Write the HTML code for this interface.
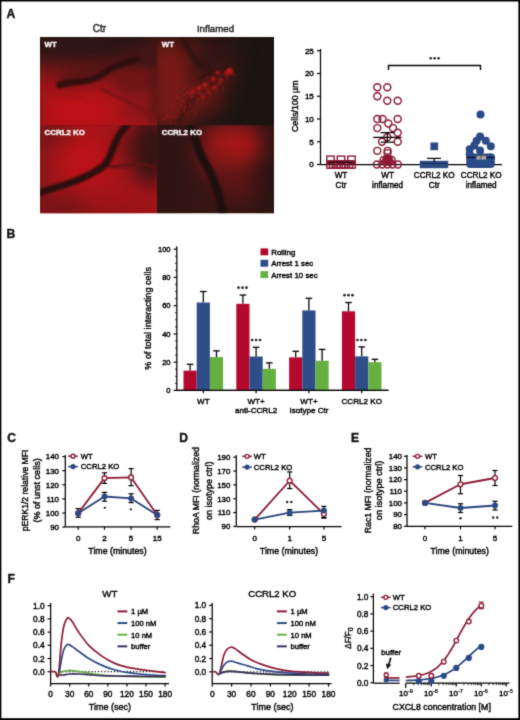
<!DOCTYPE html>
<html><head><meta charset="utf-8"><style>
html,body{margin:0;padding:0;background:#fff;}
svg{display:block;font-family:'Liberation Sans',sans-serif;}
svg text{paint-order:stroke;}
</style></head><body>
<svg width="520" height="720" viewBox="0 0 520 720" style="font-family:'Liberation Sans',sans-serif">
<defs><filter id="gblur" x="0" y="0" width="520" height="720" filterUnits="userSpaceOnUse" color-interpolation-filters="sRGB"><feConvolveMatrix order="3" kernelMatrix="0.01917 0.10012 0.01917 0.10012 0.52283 0.10012 0.01917 0.10012 0.01917" edgeMode="duplicate"/></filter></defs>
<g filter="url(#gblur)">
<rect width="520" height="720" fill="#fff"/>
<defs>
<filter id="b05" color-interpolation-filters="sRGB" x="-20%" y="-20%" width="140%" height="140%"><feGaussianBlur stdDeviation="0.6"/></filter>
<filter id="b1" color-interpolation-filters="sRGB" x="-20%" y="-20%" width="140%" height="140%"><feGaussianBlur stdDeviation="1.2"/></filter>
<filter id="b2" color-interpolation-filters="sRGB" x="-30%" y="-30%" width="160%" height="160%"><feGaussianBlur stdDeviation="2"/></filter>
<filter id="b3" color-interpolation-filters="sRGB" x="-30%" y="-30%" width="160%" height="160%"><feGaussianBlur stdDeviation="3"/></filter>
<filter id="b6" color-interpolation-filters="sRGB" x="-50%" y="-50%" width="200%" height="200%"><feGaussianBlur stdDeviation="6"/></filter>
<filter id="b10" color-interpolation-filters="sRGB" x="-50%" y="-50%" width="200%" height="200%"><feGaussianBlur stdDeviation="10"/></filter>
<clipPath id="cTL"><rect x="40" y="37" width="117" height="88.3"/></clipPath>
<clipPath id="cTR"><rect x="157" y="37" width="117" height="88.3"/></clipPath>
<clipPath id="cBL"><rect x="40" y="125.3" width="117" height="88"/></clipPath>
<clipPath id="cBR"><rect x="157" y="125.3" width="117" height="88"/></clipPath>
<linearGradient id="gTL" x1="0" y1="37" x2="0" y2="125" gradientUnits="userSpaceOnUse">
<stop offset="0" stop-color="#2c1614"/><stop offset="0.17" stop-color="#321614"/><stop offset="0.28" stop-color="#4e1614"/><stop offset="0.4" stop-color="#7a1616"/><stop offset="0.52" stop-color="#961418"/><stop offset="0.66" stop-color="#ac1418"/><stop offset="1" stop-color="#b01218"/>
</linearGradient>
</defs>
<rect x="40.5" y="37.5" width="233.5" height="175.5" fill="#3a1614"/>
<g clip-path="url(#cTL)">
<rect x="38" y="35" width="122" height="92" fill="url(#gTL)"/>
<g filter="url(#b6)">
<ellipse cx="140" cy="50" rx="30" ry="14" fill="#2c1614"/>
<ellipse cx="132" cy="82" rx="20" ry="14" fill="#6e1616"/>
<ellipse cx="80" cy="112" rx="32" ry="13" fill="#be1018"/>
<ellipse cx="140" cy="110" rx="18" ry="14" fill="#8e1619"/>
<rect x="32" y="90" width="10" height="40" fill="#901519"/>
<rect x="151" y="35" width="10" height="92" fill="#4a1615"/>
</g>
<path d="M60,80 C75,76 95,74 110,64 C120,58 135,54 157,52" stroke="#4a1414" stroke-width="12" fill="none" filter="url(#b6)"/>
<g filter="url(#b1)" fill="none">
<path d="M57,86 C64,83 72,82 84,81 C96,80 104,73 112,68 C120,64 128,62 140,58" stroke="#300e0e" stroke-width="6"/>
<path d="M100,89 C115,95 132,104 157,118" stroke="#7a1416" stroke-width="3.5"/>
<path d="M42,92 C55,95 70,99 84,97" stroke="#a31418" stroke-width="2.5"/>
</g>
</g>
<g clip-path="url(#cTR)">
<rect x="155" y="35" width="122" height="92" fill="#1c1411"/>
<g filter="url(#b10)">
<path d="M165,118 L230,70" stroke="#6a1a16" stroke-width="16"/>
<rect x="150" y="40" width="42" height="87" fill="#7a1a16"/>
<ellipse cx="190" cy="48" rx="16" ry="10" fill="#5e1814"/>
<ellipse cx="200" cy="98" rx="24" ry="18" fill="#641815"/>
<ellipse cx="214" cy="80" rx="14" ry="9" fill="#5a1614"/>
<ellipse cx="222" cy="50" rx="16" ry="10" fill="#3a1513"/>
</g>
<g filter="url(#b2)" fill="none">
<path d="M183,38 C188,50 194,60 204,68" stroke="#2a1311" stroke-width="5"/>
<path d="M178,124 C182,114 188,104 196,96" stroke="#2e1412" stroke-width="4"/>
</g>
<g filter="url(#b05)">
<circle cx="187.1" cy="110.8" r="0.66" fill="#b81c1c" opacity="0.29"/>
<circle cx="170.2" cy="127.5" r="1.01" fill="#b81c1c" opacity="0.22"/>
<circle cx="190.4" cy="101.1" r="0.65" fill="#b81c1c" opacity="0.44"/>
<circle cx="210.2" cy="96.5" r="1.07" fill="#b81c1c" opacity="0.34"/>
<circle cx="189.9" cy="103.6" r="1.29" fill="#d02020" opacity="0.30"/>
<circle cx="198.7" cy="94.2" r="1.06" fill="#9a1818" opacity="0.23"/>
<circle cx="201.8" cy="93.8" r="1.17" fill="#b81c1c" opacity="0.35"/>
<circle cx="197.4" cy="99.1" r="1.03" fill="#d02020" opacity="0.32"/>
<circle cx="225.0" cy="72.8" r="0.74" fill="#9a1818" opacity="0.22"/>
<circle cx="184.2" cy="110.4" r="1.00" fill="#d02020" opacity="0.38"/>
<circle cx="183.0" cy="110.5" r="0.93" fill="#d02020" opacity="0.24"/>
<circle cx="195.0" cy="96.7" r="0.63" fill="#b81c1c" opacity="0.39"/>
<circle cx="203.7" cy="96.2" r="1.16" fill="#8a1616" opacity="0.34"/>
<circle cx="190.3" cy="95.1" r="1.27" fill="#d02020" opacity="0.32"/>
<circle cx="213.1" cy="95.6" r="1.12" fill="#8a1616" opacity="0.27"/>
<circle cx="190.3" cy="105.9" r="1.13" fill="#b81c1c" opacity="0.44"/>
<circle cx="181.7" cy="98.3" r="0.77" fill="#d02020" opacity="0.23"/>
<circle cx="174.3" cy="104.5" r="0.91" fill="#8a1616" opacity="0.22"/>
<circle cx="184.1" cy="87.4" r="1.26" fill="#d02020" opacity="0.38"/>
<circle cx="229.2" cy="69.1" r="1.15" fill="#8a1616" opacity="0.44"/>
<circle cx="172.4" cy="116.5" r="0.79" fill="#8a1616" opacity="0.41"/>
<circle cx="176.2" cy="117.1" r="0.83" fill="#9a1818" opacity="0.30"/>
<circle cx="176.7" cy="89.2" r="1.15" fill="#b81c1c" opacity="0.31"/>
<circle cx="219.5" cy="73.0" r="1.36" fill="#8a1616" opacity="0.30"/>
<circle cx="184.1" cy="95.8" r="0.75" fill="#9a1818" opacity="0.31"/>
<circle cx="168.5" cy="117.2" r="1.08" fill="#b81c1c" opacity="0.20"/>
<circle cx="174.6" cy="119.5" r="0.62" fill="#9a1818" opacity="0.35"/>
<circle cx="173.5" cy="118.3" r="0.80" fill="#d02020" opacity="0.35"/>
<circle cx="197.7" cy="102.9" r="1.38" fill="#8a1616" opacity="0.32"/>
<circle cx="170.0" cy="123.1" r="0.68" fill="#d02020" opacity="0.39"/>
<circle cx="192.7" cy="95.1" r="0.76" fill="#d02020" opacity="0.24"/>
<circle cx="194.6" cy="88.0" r="0.62" fill="#d02020" opacity="0.44"/>
<circle cx="221.3" cy="76.8" r="0.89" fill="#9a1818" opacity="0.29"/>
<circle cx="172.6" cy="105.8" r="1.03" fill="#d02020" opacity="0.36"/>
<circle cx="205.7" cy="92.9" r="0.76" fill="#9a1818" opacity="0.40"/>
<circle cx="207.5" cy="76.2" r="0.78" fill="#8a1616" opacity="0.29"/>
<circle cx="166.2" cy="126.3" r="0.81" fill="#d02020" opacity="0.31"/>
<circle cx="227.9" cy="74.8" r="1.39" fill="#d02020" opacity="0.22"/>
<circle cx="162.9" cy="110.5" r="0.99" fill="#b81c1c" opacity="0.32"/>
<circle cx="207.6" cy="89.6" r="1.24" fill="#b81c1c" opacity="0.41"/>
<circle cx="162.7" cy="107.5" r="0.76" fill="#9a1818" opacity="0.31"/>
<circle cx="209.6" cy="95.0" r="0.67" fill="#8a1616" opacity="0.32"/>
<circle cx="215.3" cy="86.6" r="1.39" fill="#b81c1c" opacity="0.24"/>
<circle cx="226.1" cy="77.2" r="1.25" fill="#9a1818" opacity="0.35"/>
<circle cx="194.0" cy="79.0" r="0.72" fill="#9a1818" opacity="0.21"/>
<circle cx="218.8" cy="83.0" r="1.18" fill="#b81c1c" opacity="0.33"/>
<circle cx="221.6" cy="66.4" r="1.26" fill="#9a1818" opacity="0.21"/>
<circle cx="179.2" cy="116.6" r="1.00" fill="#d02020" opacity="0.26"/>
<circle cx="196.5" cy="109.6" r="0.88" fill="#8a1616" opacity="0.37"/>
<circle cx="224.0" cy="88.0" r="1.01" fill="#9a1818" opacity="0.33"/>
<circle cx="202.0" cy="101.4" r="0.75" fill="#b81c1c" opacity="0.39"/>
<circle cx="171.4" cy="115.2" r="0.71" fill="#b81c1c" opacity="0.34"/>
<circle cx="177.8" cy="97.4" r="1.23" fill="#b81c1c" opacity="0.42"/>
<circle cx="163.3" cy="118.0" r="0.75" fill="#b81c1c" opacity="0.39"/>
<circle cx="190.2" cy="87.2" r="1.33" fill="#8a1616" opacity="0.28"/>
<circle cx="228.2" cy="69.7" r="1.08" fill="#9a1818" opacity="0.37"/>
<circle cx="187.9" cy="92.4" r="1.35" fill="#d02020" opacity="0.43"/>
<circle cx="223.5" cy="75.4" r="0.76" fill="#8a1616" opacity="0.23"/>
<circle cx="167.0" cy="113.3" r="0.79" fill="#b81c1c" opacity="0.25"/>
<circle cx="182.4" cy="107.4" r="0.70" fill="#9a1818" opacity="0.43"/>
<circle cx="204.4" cy="86.5" r="0.71" fill="#8a1616" opacity="0.25"/>
<circle cx="230.3" cy="75.8" r="0.92" fill="#8a1616" opacity="0.24"/>
<circle cx="209.0" cy="89.3" r="1.40" fill="#8a1616" opacity="0.28"/>
<circle cx="181.5" cy="122.4" r="0.85" fill="#d02020" opacity="0.20"/>
<circle cx="199.2" cy="92.8" r="0.87" fill="#d02020" opacity="0.33"/>
<circle cx="165.0" cy="119.2" r="1.39" fill="#9a1818" opacity="0.44"/>
<circle cx="167.4" cy="116.5" r="1.22" fill="#d02020" opacity="0.39"/>
<circle cx="220.0" cy="81.5" r="1.28" fill="#d02020" opacity="0.30"/>
<circle cx="194.0" cy="88.1" r="0.86" fill="#d02020" opacity="0.21"/>
<circle cx="209.2" cy="86.3" r="0.94" fill="#b81c1c" opacity="0.27"/>
<circle cx="164.6" cy="126.0" r="1.09" fill="#9a1818" opacity="0.22"/>
<circle cx="223.4" cy="79.9" r="0.96" fill="#d02020" opacity="0.45"/>
<circle cx="195.2" cy="107.9" r="0.63" fill="#9a1818" opacity="0.43"/>
<circle cx="227.7" cy="69.6" r="0.81" fill="#9a1818" opacity="0.25"/>
<circle cx="179.9" cy="102.5" r="0.83" fill="#9a1818" opacity="0.27"/>
<circle cx="223.2" cy="88.5" r="1.40" fill="#b81c1c" opacity="0.20"/>
<circle cx="210.6" cy="81.6" r="0.98" fill="#8a1616" opacity="0.23"/>
<circle cx="218.3" cy="79.3" r="0.95" fill="#8a1616" opacity="0.34"/>
<circle cx="226.7" cy="80.4" r="0.77" fill="#9a1818" opacity="0.29"/>
<circle cx="219.4" cy="78.8" r="1.17" fill="#9a1818" opacity="0.30"/>
<circle cx="187.2" cy="107.4" r="0.66" fill="#d02020" opacity="0.31"/>
<circle cx="164.9" cy="120.4" r="1.13" fill="#8a1616" opacity="0.42"/>
<circle cx="207.7" cy="87.0" r="0.83" fill="#8a1616" opacity="0.25"/>
<circle cx="182.7" cy="113.0" r="0.60" fill="#d02020" opacity="0.44"/>
<circle cx="227.9" cy="69.4" r="1.37" fill="#d02020" opacity="0.25"/>
<circle cx="172.1" cy="111.2" r="0.87" fill="#b81c1c" opacity="0.32"/>
<circle cx="197.7" cy="98.4" r="0.60" fill="#d02020" opacity="0.40"/>
<circle cx="175.9" cy="122.5" r="1.07" fill="#8a1616" opacity="0.21"/>
<circle cx="182.6" cy="107.4" r="1.02" fill="#9a1818" opacity="0.36"/>
<circle cx="216.2" cy="92.1" r="1.30" fill="#8a1616" opacity="0.39"/>
<circle cx="209.0" cy="81.1" r="1.09" fill="#9a1818" opacity="0.21"/>
<circle cx="220.2" cy="79.5" r="1.31" fill="#8a1616" opacity="0.38"/>
<circle cx="221.1" cy="84.3" r="1.00" fill="#b81c1c" opacity="0.41"/>
<circle cx="205.7" cy="97.3" r="1.31" fill="#9a1818" opacity="0.22"/>
<circle cx="154.6" cy="107.9" r="0.90" fill="#8a1616" opacity="0.34"/>
<circle cx="198.0" cy="79.8" r="1.10" fill="#9a1818" opacity="0.32"/>
<circle cx="162.8" cy="125.4" r="1.00" fill="#b81c1c" opacity="0.36"/>
<circle cx="156.7" cy="107.3" r="1.19" fill="#d02020" opacity="0.40"/>
<circle cx="221.4" cy="79.6" r="0.78" fill="#8a1616" opacity="0.32"/>
<circle cx="194.8" cy="112.7" r="0.98" fill="#d02020" opacity="0.39"/>
<circle cx="203.5" cy="89.2" r="0.72" fill="#d02020" opacity="0.36"/>
<circle cx="208.8" cy="85.1" r="1.10" fill="#9a1818" opacity="0.20"/>
<circle cx="163.5" cy="117.6" r="1.15" fill="#8a1616" opacity="0.27"/>
<circle cx="203.2" cy="104.1" r="0.97" fill="#8a1616" opacity="0.39"/>
<circle cx="229.1" cy="67.9" r="0.67" fill="#8a1616" opacity="0.20"/>
<circle cx="192.0" cy="97.1" r="1.26" fill="#8a1616" opacity="0.45"/>
<circle cx="196.5" cy="114.5" r="0.66" fill="#b81c1c" opacity="0.24"/>
<circle cx="193.1" cy="88.7" r="1.36" fill="#9a1818" opacity="0.35"/>
<circle cx="205.1" cy="89.3" r="0.89" fill="#8a1616" opacity="0.42"/>
<circle cx="197.0" cy="100.0" r="0.62" fill="#b81c1c" opacity="0.44"/>
<circle cx="204.2" cy="80.4" r="0.93" fill="#8a1616" opacity="0.28"/>
<circle cx="223.4" cy="83.3" r="0.60" fill="#d02020" opacity="0.41"/>
<circle cx="175.6" cy="125.8" r="1.32" fill="#d02020" opacity="0.26"/>
<circle cx="161.1" cy="113.6" r="0.91" fill="#b81c1c" opacity="0.29"/>
<circle cx="190.6" cy="99.9" r="0.68" fill="#d02020" opacity="0.36"/>
<circle cx="172.2" cy="116.5" r="1.38" fill="#8a1616" opacity="0.33"/>
<circle cx="165.3" cy="100.5" r="1.31" fill="#8a1616" opacity="0.43"/>
<circle cx="233.2" cy="81.7" r="1.04" fill="#b81c1c" opacity="0.21"/>
<circle cx="207.1" cy="76.7" r="1.12" fill="#d02020" opacity="0.32"/>
<circle cx="227.2" cy="77.7" r="1.04" fill="#9a1818" opacity="0.32"/>
<circle cx="182.6" cy="101.4" r="1.38" fill="#d02020" opacity="0.30"/>
<circle cx="184.5" cy="120.2" r="0.99" fill="#8a1616" opacity="0.23"/>
<circle cx="210.2" cy="94.7" r="1.25" fill="#9a1818" opacity="0.31"/>
<circle cx="186.3" cy="108.4" r="1.21" fill="#8a1616" opacity="0.23"/>
<circle cx="177.5" cy="117.4" r="0.67" fill="#9a1818" opacity="0.29"/>
<circle cx="219.9" cy="83.1" r="0.76" fill="#b81c1c" opacity="0.39"/>
<circle cx="185.3" cy="94.7" r="0.90" fill="#d02020" opacity="0.39"/>
<circle cx="198.4" cy="100.2" r="1.06" fill="#d02020" opacity="0.23"/>
<circle cx="190.7" cy="88.5" r="0.77" fill="#d02020" opacity="0.42"/>
<circle cx="181.4" cy="93.5" r="1.12" fill="#8a1616" opacity="0.44"/>
<circle cx="221.6" cy="79.4" r="0.63" fill="#8a1616" opacity="0.44"/>
<circle cx="194.7" cy="96.2" r="0.66" fill="#8a1616" opacity="0.44"/>
<circle cx="180.0" cy="112.3" r="1.02" fill="#b81c1c" opacity="0.44"/>
<circle cx="213.3" cy="87.0" r="1.12" fill="#8a1616" opacity="0.22"/>
<circle cx="217.7" cy="84.9" r="1.06" fill="#b81c1c" opacity="0.36"/>
<circle cx="181.9" cy="106.5" r="0.70" fill="#d02020" opacity="0.33"/>
<circle cx="191.7" cy="99.9" r="0.84" fill="#9a1818" opacity="0.30"/>
<circle cx="174.0" cy="107.6" r="1.08" fill="#b81c1c" opacity="0.33"/>
<circle cx="231.3" cy="70.5" r="1.27" fill="#9a1818" opacity="0.32"/>
<circle cx="180.9" cy="115.7" r="0.80" fill="#8a1616" opacity="0.38"/>
<circle cx="187.4" cy="113.7" r="1.14" fill="#8a1616" opacity="0.22"/>
<circle cx="177.2" cy="111.4" r="0.94" fill="#d02020" opacity="0.26"/>
<circle cx="159.6" cy="116.3" r="1.15" fill="#9a1818" opacity="0.20"/>
<circle cx="185.1" cy="112.8" r="1.28" fill="#b81c1c" opacity="0.25"/>
<circle cx="227.8" cy="69.6" r="0.78" fill="#9a1818" opacity="0.27"/>
<circle cx="229.4" cy="84.3" r="0.69" fill="#8a1616" opacity="0.35"/>
<circle cx="217.7" cy="66.6" r="0.65" fill="#9a1818" opacity="0.43"/>
<circle cx="165.0" cy="120.7" r="0.62" fill="#9a1818" opacity="0.30"/>
<circle cx="212.7" cy="88.0" r="1.17" fill="#d02020" opacity="0.38"/>
<circle cx="234.7" cy="75.2" r="1.35" fill="#d02020" opacity="0.25"/>
<circle cx="202.9" cy="82.9" r="0.85" fill="#8a1616" opacity="0.41"/>
<circle cx="230.4" cy="71.0" r="0.95" fill="#b81c1c" opacity="0.20"/>
<circle cx="173.4" cy="98.1" r="0.70" fill="#9a1818" opacity="0.30"/>
<circle cx="222.2" cy="92.5" r="0.85" fill="#8a1616" opacity="0.22"/>
<circle cx="212.3" cy="88.1" r="0.96" fill="#d02020" opacity="0.29"/>
<circle cx="228.3" cy="81.5" r="0.62" fill="#8a1616" opacity="0.26"/>
<circle cx="202.0" cy="85.8" r="0.97" fill="#b81c1c" opacity="0.26"/>
<circle cx="215.7" cy="86.6" r="1.32" fill="#d02020" opacity="0.29"/>
<circle cx="185.4" cy="106.7" r="1.20" fill="#d02020" opacity="0.43"/>
<circle cx="181.0" cy="106.3" r="1.18" fill="#b81c1c" opacity="0.21"/>
<circle cx="165.3" cy="93.7" r="1.36" fill="#8a1616" opacity="0.40"/>
<circle cx="227.0" cy="77.1" r="1.25" fill="#9a1818" opacity="0.43"/>
<circle cx="175.7" cy="116.3" r="1.26" fill="#9a1818" opacity="0.35"/>
<circle cx="176.7" cy="95.5" r="0.86" fill="#d02020" opacity="0.40"/>
<circle cx="199.1" cy="86.2" r="0.73" fill="#8a1616" opacity="0.22"/>
<circle cx="162.1" cy="119.7" r="1.04" fill="#d02020" opacity="0.24"/>
<circle cx="192.0" cy="102.1" r="1.10" fill="#9a1818" opacity="0.22"/>
<circle cx="196.9" cy="97.9" r="1.17" fill="#8a1616" opacity="0.24"/>
<circle cx="159.5" cy="101.0" r="0.79" fill="#b81c1c" opacity="0.39"/>
<circle cx="183.5" cy="110.3" r="0.82" fill="#d02020" opacity="0.29"/>
<circle cx="214.0" cy="85.5" r="0.80" fill="#9a1818" opacity="0.27"/>
<circle cx="227.6" cy="78.9" r="0.75" fill="#b81c1c" opacity="0.30"/>
<circle cx="229.3" cy="68.4" r="1.25" fill="#8a1616" opacity="0.45"/>
<circle cx="167.2" cy="116.5" r="0.98" fill="#9a1818" opacity="0.41"/>
<circle cx="228.3" cy="78.9" r="0.70" fill="#9a1818" opacity="0.35"/>
<circle cx="220.3" cy="80.8" r="0.76" fill="#b81c1c" opacity="0.29"/>
<circle cx="220.0" cy="74.5" r="1.22" fill="#b81c1c" opacity="0.23"/>
<circle cx="203.9" cy="92.9" r="1.10" fill="#9a1818" opacity="0.21"/>
<circle cx="202.5" cy="130.2" r="0.63" fill="#9a1818" opacity="0.40"/>
<circle cx="222.8" cy="85.7" r="0.93" fill="#d02020" opacity="0.25"/>
<circle cx="184.8" cy="109.3" r="1.04" fill="#b81c1c" opacity="0.30"/>
<circle cx="223.1" cy="89.5" r="1.13" fill="#9a1818" opacity="0.36"/>
<circle cx="170.5" cy="123.0" r="0.93" fill="#d02020" opacity="0.37"/>
<circle cx="195.7" cy="108.6" r="0.64" fill="#d02020" opacity="0.30"/>
<circle cx="162.3" cy="122.4" r="1.12" fill="#8a1616" opacity="0.38"/>
<circle cx="166.2" cy="99.6" r="0.60" fill="#9a1818" opacity="0.31"/>
<circle cx="213.4" cy="72.1" r="0.97" fill="#9a1818" opacity="0.23"/>
<circle cx="169.6" cy="127.7" r="0.71" fill="#8a1616" opacity="0.22"/>
<circle cx="201.7" cy="85.9" r="0.72" fill="#d02020" opacity="0.24"/>
<circle cx="176.5" cy="119.1" r="0.65" fill="#8a1616" opacity="0.32"/>
<circle cx="220.1" cy="84.0" r="0.70" fill="#b81c1c" opacity="0.44"/>
<circle cx="194.2" cy="96.6" r="0.64" fill="#8a1616" opacity="0.22"/>
<circle cx="208.4" cy="81.7" r="1.11" fill="#9a1818" opacity="0.36"/>
<circle cx="196.9" cy="80.2" r="0.76" fill="#8a1616" opacity="0.25"/>
<circle cx="171.1" cy="104.4" r="0.91" fill="#b81c1c" opacity="0.24"/>
<circle cx="232.0" cy="75.5" r="1.25" fill="#9a1818" opacity="0.21"/>
<circle cx="200.5" cy="93.4" r="1.27" fill="#b81c1c" opacity="0.30"/>
<circle cx="191.7" cy="97.1" r="1.28" fill="#d02020" opacity="0.36"/>
<circle cx="182.2" cy="106.3" r="0.89" fill="#8a1616" opacity="0.24"/>
<circle cx="165.4" cy="129.1" r="1.39" fill="#8a1616" opacity="0.26"/>
</g>
<g fill="#c81c1c" filter="url(#b1)" opacity="0.85">
<circle cx="230" cy="71.5" r="3.2"/>
<circle cx="226" cy="73" r="2.0"/>
<circle cx="217" cy="72" r="2.3"/>
<circle cx="213" cy="79" r="2.2"/>
<circle cx="205" cy="85" r="2.3"/>
<circle cx="199" cy="88" r="2.3"/>
<circle cx="193" cy="92" r="2.0"/>
<circle cx="215" cy="88" r="1.8"/>
<circle cx="203" cy="97" r="1.7"/>
<circle cx="209" cy="92" r="1.6"/>
<circle cx="221" cy="80" r="1.6"/>
</g>
<path d="M198,80 C206,76 214,70 226,66" stroke="#2a1210" stroke-width="2" fill="none" filter="url(#b1)"/>
</g>
<g clip-path="url(#cBL)">
<rect x="38" y="123" width="122" height="92" fill="#a61419"/>
<g filter="url(#b10)">
<ellipse cx="86" cy="160" rx="26" ry="22" fill="#bc1218"/>
<ellipse cx="150" cy="150" rx="18" ry="36" fill="#2c1412"/>
<ellipse cx="126" cy="148" rx="12" ry="14" fill="#6a1616"/>
<ellipse cx="100" cy="214" rx="60" ry="8" fill="#8a1416"/>
<ellipse cx="50" cy="132" rx="22" ry="12" fill="#701616"/>
<ellipse cx="58" cy="208" rx="30" ry="12" fill="#6e1416"/>
<rect x="32" y="123" width="12" height="92" fill="#6a1616"/>
</g>
<g filter="url(#b1)" fill="none">
<path d="M38,193 C48,190 58,187 67,184 C76,181 86,177 96,171 C102,168 106,165 109,158 C112,151 114,145 117,139 C120,133 124,128 129,123" stroke="#2c0e0e" stroke-width="7"/>
<path d="M108,166 C118,168 128,165 138,164 C144,164 150,166 157,168" stroke="#5a1414" stroke-width="3"/>
</g>
</g>
<g clip-path="url(#cBR)">
<rect x="155" y="123" width="122" height="92" fill="#351513"/>
<g filter="url(#b10)">
<ellipse cx="232" cy="145" rx="32" ry="22" fill="#a81818"/>
<ellipse cx="214" cy="160" rx="14" ry="16" fill="#801616"/>
<ellipse cx="236" cy="186" rx="22" ry="14" fill="#5e1515"/>
<rect x="262" y="123" width="16" height="92" fill="#241412"/>
<rect x="155" y="123" width="22" height="92" fill="#2c1412"/>
</g>
<g filter="url(#b1)" fill="none">
<path d="M189,124 C193,130 196,140 198,148 C201,156 205,163 209,170 C213,177 216,186 218,193 C220,200 222,207 223,214" stroke="#1e0e0e" stroke-width="8"/>
</g>
</g>
<g font-weight="bold" font-size="7.9" fill="#f8f2f2" stroke="#f8f2f2" stroke-width="0.45">
<text x="44.6" y="47.1">WT</text>
<text x="161.7" y="47.1">WT</text>
<text x="44.6" y="134.9">CCRL2 KO</text>
<text x="161.7" y="134.9">CCRL2 KO</text>
</g>
<text x="99.50" y="32.30" font-size="10" text-anchor="middle" font-weight="normal" fill="#1a1a1a" stroke="#1a1a1a" stroke-width="0.4" >Ctr</text>
<text x="215.50" y="32.20" font-size="9.9" text-anchor="middle" font-weight="normal" fill="#1a1a1a" stroke="#1a1a1a" stroke-width="0.4" textLength="37.2" lengthAdjust="spacingAndGlyphs">Inflamed</text>
<line x1="320.50" y1="49.00" x2="320.50" y2="164.50" stroke="#000000" stroke-width="1.25" />
<line x1="320.50" y1="164.50" x2="502.00" y2="164.50" stroke="#000000" stroke-width="1.25" />
<line x1="317.00" y1="164.50" x2="320.50" y2="164.50" stroke="#000000" stroke-width="1.2" />
<text x="313.80" y="167.40" font-size="8" text-anchor="end" font-weight="normal" fill="#000000" stroke="#000000" stroke-width="0.4" >0</text>
<line x1="317.00" y1="141.75" x2="320.50" y2="141.75" stroke="#000000" stroke-width="1.2" />
<text x="313.80" y="144.65" font-size="8" text-anchor="end" font-weight="normal" fill="#000000" stroke="#000000" stroke-width="0.4" >5</text>
<line x1="317.00" y1="119.00" x2="320.50" y2="119.00" stroke="#000000" stroke-width="1.2" />
<text x="313.80" y="121.90" font-size="8" text-anchor="end" font-weight="normal" fill="#000000" stroke="#000000" stroke-width="0.4" >10</text>
<line x1="317.00" y1="96.25" x2="320.50" y2="96.25" stroke="#000000" stroke-width="1.2" />
<text x="313.80" y="99.15" font-size="8" text-anchor="end" font-weight="normal" fill="#000000" stroke="#000000" stroke-width="0.4" >15</text>
<line x1="317.00" y1="73.50" x2="320.50" y2="73.50" stroke="#000000" stroke-width="1.2" />
<text x="313.80" y="76.40" font-size="8" text-anchor="end" font-weight="normal" fill="#000000" stroke="#000000" stroke-width="0.4" >20</text>
<line x1="317.00" y1="50.75" x2="320.50" y2="50.75" stroke="#000000" stroke-width="1.2" />
<text x="313.80" y="53.65" font-size="8" text-anchor="end" font-weight="normal" fill="#000000" stroke="#000000" stroke-width="0.4" >25</text>
<text transform="translate(298.30,132.00) rotate(-90)" font-size="9.3" fill="#000000" stroke="#000000" stroke-width="0.4" textLength="51.50" lengthAdjust="spacingAndGlyphs">Cells/100 µm</text>
<text x="341.00" y="178.20" font-size="8.2" text-anchor="middle" font-weight="normal" fill="#000000" stroke="#000000" stroke-width="0.4" >WT</text>
<text x="341.00" y="187.90" font-size="8.2" text-anchor="middle" font-weight="normal" fill="#000000" stroke="#000000" stroke-width="0.4" >Ctr</text>
<text x="387.60" y="178.20" font-size="8.2" text-anchor="middle" font-weight="normal" fill="#000000" stroke="#000000" stroke-width="0.4" >WT</text>
<text x="387.60" y="187.90" font-size="8.2" text-anchor="middle" font-weight="normal" fill="#000000" stroke="#000000" stroke-width="0.4" >inflamed</text>
<text x="434.20" y="178.20" font-size="8.2" text-anchor="middle" font-weight="normal" fill="#000000" stroke="#000000" stroke-width="0.4" >CCRL2 KO</text>
<text x="434.20" y="187.90" font-size="8.2" text-anchor="middle" font-weight="normal" fill="#000000" stroke="#000000" stroke-width="0.4" >Ctr</text>
<text x="481.20" y="178.20" font-size="8.2" text-anchor="middle" font-weight="normal" fill="#000000" stroke="#000000" stroke-width="0.4" >CCRL2 KO</text>
<text x="481.20" y="187.90" font-size="8.2" text-anchor="middle" font-weight="normal" fill="#000000" stroke="#000000" stroke-width="0.4" >inflamed</text>
<polyline points="388.50,70.00 388.50,65.50 480.50,65.50 480.50,70.00" fill="none" stroke="#000000" stroke-width="1.4" stroke-linejoin="round" />
<circle cx="430.70" cy="58.20" r="1.3" fill="#222" stroke="none" stroke-width="1.2"/>
<circle cx="434.60" cy="58.20" r="1.3" fill="#222" stroke="none" stroke-width="1.2"/>
<circle cx="438.50" cy="58.20" r="1.3" fill="#222" stroke="none" stroke-width="1.2"/>
<rect x="326.80" y="160.80" width="7.4" height="7.4" fill="#fff" fill-opacity="0.0" stroke="#8c1934" stroke-width="1.4"/>
<rect x="329.50" y="160.80" width="7.4" height="7.4" fill="#fff" fill-opacity="0.0" stroke="#8c1934" stroke-width="1.4"/>
<rect x="332.30" y="160.80" width="7.4" height="7.4" fill="#fff" fill-opacity="0.0" stroke="#8c1934" stroke-width="1.4"/>
<rect x="334.90" y="160.80" width="7.4" height="7.4" fill="#fff" fill-opacity="0.0" stroke="#8c1934" stroke-width="1.4"/>
<rect x="337.30" y="160.80" width="7.4" height="7.4" fill="#fff" fill-opacity="0.0" stroke="#8c1934" stroke-width="1.4"/>
<rect x="339.90" y="160.80" width="7.4" height="7.4" fill="#fff" fill-opacity="0.0" stroke="#8c1934" stroke-width="1.4"/>
<rect x="342.30" y="160.80" width="7.4" height="7.4" fill="#fff" fill-opacity="0.0" stroke="#8c1934" stroke-width="1.4"/>
<rect x="345.10" y="160.80" width="7.4" height="7.4" fill="#fff" fill-opacity="0.0" stroke="#8c1934" stroke-width="1.4"/>
<rect x="347.80" y="160.80" width="7.4" height="7.4" fill="#fff" fill-opacity="0.0" stroke="#8c1934" stroke-width="1.4"/>
<rect x="326.80" y="156.10" width="7.4" height="7.4" fill="#fff" fill-opacity="0.0" stroke="#8c1934" stroke-width="1.4"/>
<rect x="337.30" y="156.10" width="7.4" height="7.4" fill="#fff" fill-opacity="0.0" stroke="#8c1934" stroke-width="1.4"/>
<rect x="347.80" y="156.10" width="7.4" height="7.4" fill="#fff" fill-opacity="0.0" stroke="#8c1934" stroke-width="1.4"/>
<line x1="327.50" y1="162.30" x2="354.50" y2="162.30" stroke="#3a0a18" stroke-width="1.6" />
<circle cx="387.60" cy="159.60" r="5.3" fill="#c0143c" stroke="none" stroke-width="1.2"/>
<circle cx="377.30" cy="87.15" r="3.5" fill="none" stroke="#8c1934" stroke-width="1.45"/>
<circle cx="387.30" cy="87.15" r="3.5" fill="none" stroke="#8c1934" stroke-width="1.45"/>
<circle cx="377.30" cy="96.25" r="3.5" fill="none" stroke="#8c1934" stroke-width="1.45"/>
<circle cx="387.30" cy="100.80" r="3.5" fill="none" stroke="#8c1934" stroke-width="1.45"/>
<circle cx="397.70" cy="100.80" r="3.5" fill="none" stroke="#8c1934" stroke-width="1.45"/>
<circle cx="377.30" cy="119.00" r="3.5" fill="none" stroke="#8c1934" stroke-width="1.45"/>
<circle cx="382.50" cy="119.00" r="3.5" fill="none" stroke="#8c1934" stroke-width="1.45"/>
<circle cx="397.70" cy="119.00" r="3.5" fill="none" stroke="#8c1934" stroke-width="1.45"/>
<circle cx="388.30" cy="123.55" r="3.5" fill="none" stroke="#8c1934" stroke-width="1.45"/>
<circle cx="377.30" cy="128.10" r="3.5" fill="none" stroke="#8c1934" stroke-width="1.45"/>
<circle cx="393.00" cy="128.10" r="3.5" fill="none" stroke="#8c1934" stroke-width="1.45"/>
<circle cx="397.70" cy="132.65" r="3.5" fill="none" stroke="#8c1934" stroke-width="1.45"/>
<circle cx="387.30" cy="137.20" r="3.5" fill="none" stroke="#8c1934" stroke-width="1.45"/>
<circle cx="382.00" cy="141.75" r="3.5" fill="none" stroke="#8c1934" stroke-width="1.45"/>
<circle cx="397.70" cy="141.75" r="3.5" fill="none" stroke="#8c1934" stroke-width="1.45"/>
<circle cx="377.30" cy="150.85" r="3.5" fill="none" stroke="#8c1934" stroke-width="1.45"/>
<circle cx="387.60" cy="150.85" r="3.5" fill="none" stroke="#8c1934" stroke-width="1.45"/>
<circle cx="387.60" cy="153.12" r="3.5" fill="none" stroke="#8c1934" stroke-width="1.45"/>
<circle cx="383.60" cy="159.95" r="3.5" fill="none" stroke="#8c1934" stroke-width="1.45"/>
<circle cx="387.60" cy="159.04" r="3.5" fill="none" stroke="#8c1934" stroke-width="1.45"/>
<circle cx="391.60" cy="159.95" r="3.5" fill="none" stroke="#8c1934" stroke-width="1.45"/>
<circle cx="385.60" cy="161.77" r="3.5" fill="none" stroke="#8c1934" stroke-width="1.45"/>
<circle cx="389.60" cy="161.77" r="3.5" fill="none" stroke="#8c1934" stroke-width="1.45"/>
<circle cx="376.90" cy="164.50" r="3.5" fill="none" stroke="#8c1934" stroke-width="1.45"/>
<circle cx="382.20" cy="164.50" r="3.5" fill="none" stroke="#8c1934" stroke-width="1.45"/>
<circle cx="387.60" cy="164.50" r="3.5" fill="none" stroke="#8c1934" stroke-width="1.45"/>
<circle cx="392.50" cy="164.50" r="3.5" fill="none" stroke="#8c1934" stroke-width="1.45"/>
<circle cx="397.90" cy="164.50" r="3.5" fill="none" stroke="#8c1934" stroke-width="1.45"/>
<line x1="373.20" y1="137.40" x2="401.50" y2="137.40" stroke="#000000" stroke-width="1.3" />
<line x1="380.50" y1="132.60" x2="394.00" y2="132.60" stroke="#000000" stroke-width="1.2" />
<line x1="380.50" y1="142.20" x2="394.00" y2="142.20" stroke="#000000" stroke-width="1.2" />
<line x1="387.30" y1="132.60" x2="387.30" y2="142.20" stroke="#000000" stroke-width="1.2" />
<rect x="419.80" y="160.80" width="28.40" height="7.40" fill="#2c4a85" />
<rect x="430.40" y="142.50" width="7.70" height="7.70" fill="#2c4a85" />
<line x1="427.00" y1="158.40" x2="441.00" y2="158.40" stroke="#000000" stroke-width="1.2" />
<line x1="434.20" y1="158.40" x2="434.20" y2="162.00" stroke="#000000" stroke-width="1.2" />
<line x1="421.00" y1="163.60" x2="447.00" y2="163.60" stroke="#1a2a55" stroke-width="1.0" />
<rect x="466.2" y="153.5" width="28.6" height="14.6" rx="4" fill="#2c4a85"/>
<rect x="476.50" y="155.80" width="9.50" height="3.80" fill="#a8a8b0" />
<circle cx="480.50" cy="114.60" r="4.0" fill="#2c4a85" stroke="none" stroke-width="1.2"/>
<circle cx="480.10" cy="136.50" r="4.0" fill="#2c4a85" stroke="none" stroke-width="1.2"/>
<circle cx="485.80" cy="140.80" r="4.0" fill="#2c4a85" stroke="none" stroke-width="1.2"/>
<circle cx="476.60" cy="140.80" r="4.0" fill="#2c4a85" stroke="none" stroke-width="1.2"/>
<circle cx="490.80" cy="146.20" r="4.0" fill="#2c4a85" stroke="none" stroke-width="1.2"/>
<circle cx="474.30" cy="145.40" r="4.0" fill="#2c4a85" stroke="none" stroke-width="1.2"/>
<circle cx="469.70" cy="149.20" r="4.0" fill="#2c4a85" stroke="none" stroke-width="1.2"/>
<circle cx="480.10" cy="150.40" r="4.0" fill="#2c4a85" stroke="none" stroke-width="1.2"/>
<circle cx="490.80" cy="157.50" r="4.0" fill="#2c4a85" stroke="none" stroke-width="1.2"/>
<circle cx="469.70" cy="154.00" r="4.0" fill="#2c4a85" stroke="none" stroke-width="1.2"/>
<line x1="466.20" y1="157.50" x2="475.50" y2="157.50" stroke="#0d1530" stroke-width="1.3" />
<line x1="487.00" y1="157.50" x2="494.70" y2="157.50" stroke="#0d1530" stroke-width="1.3" />
<line x1="477.00" y1="155.60" x2="486.00" y2="155.60" stroke="#555" stroke-width="1.0" />
<line x1="481.00" y1="155.60" x2="481.00" y2="159.80" stroke="#555" stroke-width="1.0" />
<text x="6.60" y="17.60" font-size="12.1" text-anchor="start" font-weight="bold" fill="#111" stroke="#111" stroke-width="0.4" >A</text>
<text x="6.60" y="238.40" font-size="12.1" text-anchor="start" font-weight="bold" fill="#111" stroke="#111" stroke-width="0.4" >B</text>
<line x1="176.80" y1="246.20" x2="176.80" y2="390.40" stroke="#000000" stroke-width="1.25" />
<line x1="176.80" y1="390.40" x2="388.40" y2="390.40" stroke="#000000" stroke-width="1.3" />
<line x1="173.60" y1="390.40" x2="176.80" y2="390.40" stroke="#000000" stroke-width="1.2" />
<text x="170.60" y="393.10" font-size="7.6" text-anchor="end" font-weight="normal" fill="#000000" stroke="#000000" stroke-width="0.4" >0</text>
<line x1="175.20" y1="383.34" x2="176.80" y2="383.34" stroke="#000000" stroke-width="1.0" />
<line x1="175.20" y1="376.27" x2="176.80" y2="376.27" stroke="#000000" stroke-width="1.0" />
<line x1="175.20" y1="369.21" x2="176.80" y2="369.21" stroke="#000000" stroke-width="1.0" />
<line x1="173.60" y1="362.15" x2="176.80" y2="362.15" stroke="#000000" stroke-width="1.2" />
<text x="170.60" y="364.85" font-size="7.6" text-anchor="end" font-weight="normal" fill="#000000" stroke="#000000" stroke-width="0.4" >20</text>
<line x1="175.20" y1="355.08" x2="176.80" y2="355.08" stroke="#000000" stroke-width="1.0" />
<line x1="175.20" y1="348.02" x2="176.80" y2="348.02" stroke="#000000" stroke-width="1.0" />
<line x1="175.20" y1="340.96" x2="176.80" y2="340.96" stroke="#000000" stroke-width="1.0" />
<line x1="173.60" y1="333.90" x2="176.80" y2="333.90" stroke="#000000" stroke-width="1.2" />
<text x="170.60" y="336.60" font-size="7.6" text-anchor="end" font-weight="normal" fill="#000000" stroke="#000000" stroke-width="0.4" >40</text>
<line x1="175.20" y1="326.83" x2="176.80" y2="326.83" stroke="#000000" stroke-width="1.0" />
<line x1="175.20" y1="319.77" x2="176.80" y2="319.77" stroke="#000000" stroke-width="1.0" />
<line x1="175.20" y1="312.71" x2="176.80" y2="312.71" stroke="#000000" stroke-width="1.0" />
<line x1="173.60" y1="305.64" x2="176.80" y2="305.64" stroke="#000000" stroke-width="1.2" />
<text x="170.60" y="308.34" font-size="7.6" text-anchor="end" font-weight="normal" fill="#000000" stroke="#000000" stroke-width="0.4" >60</text>
<line x1="175.20" y1="298.58" x2="176.80" y2="298.58" stroke="#000000" stroke-width="1.0" />
<line x1="175.20" y1="291.52" x2="176.80" y2="291.52" stroke="#000000" stroke-width="1.0" />
<line x1="175.20" y1="284.45" x2="176.80" y2="284.45" stroke="#000000" stroke-width="1.0" />
<line x1="173.60" y1="277.39" x2="176.80" y2="277.39" stroke="#000000" stroke-width="1.2" />
<text x="170.60" y="280.09" font-size="7.6" text-anchor="end" font-weight="normal" fill="#000000" stroke="#000000" stroke-width="0.4" >80</text>
<line x1="175.20" y1="270.33" x2="176.80" y2="270.33" stroke="#000000" stroke-width="1.0" />
<line x1="175.20" y1="263.27" x2="176.80" y2="263.27" stroke="#000000" stroke-width="1.0" />
<line x1="175.20" y1="256.20" x2="176.80" y2="256.20" stroke="#000000" stroke-width="1.0" />
<line x1="173.60" y1="249.14" x2="176.80" y2="249.14" stroke="#000000" stroke-width="1.2" />
<text x="170.60" y="251.84" font-size="7.6" text-anchor="end" font-weight="normal" fill="#000000" stroke="#000000" stroke-width="0.4" >100</text>
<text transform="translate(151.10,369.70) rotate(-90)" font-size="9.3" fill="#000000" stroke="#000000" stroke-width="0.4" textLength="102.80" lengthAdjust="spacingAndGlyphs">% of total interacting cells</text>
<rect x="183.50" y="370.62" width="13.20" height="19.78" fill="#b5082f" />
<rect x="196.70" y="302.54" width="13.20" height="87.86" fill="#2d4e88" />
<rect x="209.90" y="357.06" width="13.20" height="33.34" fill="#66b042" />
<line x1="190.10" y1="370.62" x2="190.10" y2="364.27" stroke="#000000" stroke-width="1.25" />
<line x1="186.80" y1="364.27" x2="193.40" y2="364.27" stroke="#000000" stroke-width="1.3" />
<line x1="203.30" y1="302.54" x2="203.30" y2="291.52" stroke="#000000" stroke-width="1.25" />
<line x1="200.00" y1="291.52" x2="206.60" y2="291.52" stroke="#000000" stroke-width="1.3" />
<line x1="216.50" y1="357.06" x2="216.50" y2="350.85" stroke="#000000" stroke-width="1.25" />
<line x1="213.20" y1="350.85" x2="219.80" y2="350.85" stroke="#000000" stroke-width="1.3" />
<line x1="203.30" y1="390.40" x2="203.30" y2="393.30" stroke="#000000" stroke-width="1.2" />
<rect x="236.30" y="303.81" width="13.20" height="86.59" fill="#b5082f" />
<rect x="249.50" y="356.50" width="13.20" height="33.90" fill="#2d4e88" />
<rect x="262.70" y="368.79" width="13.20" height="21.61" fill="#66b042" />
<line x1="242.90" y1="303.81" x2="242.90" y2="295.05" stroke="#000000" stroke-width="1.25" />
<line x1="239.60" y1="295.05" x2="246.20" y2="295.05" stroke="#000000" stroke-width="1.3" />
<line x1="256.10" y1="356.50" x2="256.10" y2="347.32" stroke="#000000" stroke-width="1.25" />
<line x1="252.80" y1="347.32" x2="259.40" y2="347.32" stroke="#000000" stroke-width="1.3" />
<line x1="269.30" y1="368.79" x2="269.30" y2="362.85" stroke="#000000" stroke-width="1.25" />
<line x1="266.00" y1="362.85" x2="272.60" y2="362.85" stroke="#000000" stroke-width="1.3" />
<line x1="256.10" y1="390.40" x2="256.10" y2="393.30" stroke="#000000" stroke-width="1.2" />
<rect x="289.10" y="357.35" width="13.20" height="33.05" fill="#b5082f" />
<rect x="302.30" y="310.45" width="13.20" height="79.95" fill="#2d4e88" />
<rect x="315.50" y="360.74" width="13.20" height="29.66" fill="#66b042" />
<line x1="295.70" y1="357.35" x2="295.70" y2="351.27" stroke="#000000" stroke-width="1.25" />
<line x1="292.40" y1="351.27" x2="299.00" y2="351.27" stroke="#000000" stroke-width="1.3" />
<line x1="308.90" y1="310.45" x2="308.90" y2="298.30" stroke="#000000" stroke-width="1.25" />
<line x1="305.60" y1="298.30" x2="312.20" y2="298.30" stroke="#000000" stroke-width="1.3" />
<line x1="322.10" y1="360.74" x2="322.10" y2="349.43" stroke="#000000" stroke-width="1.25" />
<line x1="318.80" y1="349.43" x2="325.40" y2="349.43" stroke="#000000" stroke-width="1.3" />
<line x1="308.90" y1="390.40" x2="308.90" y2="393.30" stroke="#000000" stroke-width="1.2" />
<rect x="341.90" y="311.29" width="13.20" height="79.11" fill="#b5082f" />
<rect x="355.10" y="356.36" width="13.20" height="34.04" fill="#2d4e88" />
<rect x="368.30" y="362.15" width="13.20" height="28.25" fill="#66b042" />
<line x1="348.50" y1="311.29" x2="348.50" y2="302.54" stroke="#000000" stroke-width="1.25" />
<line x1="345.20" y1="302.54" x2="351.80" y2="302.54" stroke="#000000" stroke-width="1.3" />
<line x1="361.70" y1="356.36" x2="361.70" y2="346.89" stroke="#000000" stroke-width="1.25" />
<line x1="358.40" y1="346.89" x2="365.00" y2="346.89" stroke="#000000" stroke-width="1.3" />
<line x1="374.90" y1="362.15" x2="374.90" y2="359.32" stroke="#000000" stroke-width="1.25" />
<line x1="371.60" y1="359.32" x2="378.20" y2="359.32" stroke="#000000" stroke-width="1.3" />
<line x1="361.70" y1="390.40" x2="361.70" y2="393.30" stroke="#000000" stroke-width="1.2" />
<line x1="176.80" y1="390.40" x2="388.40" y2="390.40" stroke="#000000" stroke-width="1.3" />
<circle cx="238.55" cy="287.70" r="1.35" fill="#222" stroke="none" stroke-width="1.2"/>
<circle cx="242.50" cy="287.70" r="1.35" fill="#222" stroke="none" stroke-width="1.2"/>
<circle cx="246.45" cy="287.70" r="1.35" fill="#222" stroke="none" stroke-width="1.2"/>
<circle cx="252.15" cy="340.00" r="1.35" fill="#222" stroke="none" stroke-width="1.2"/>
<circle cx="256.10" cy="340.00" r="1.35" fill="#222" stroke="none" stroke-width="1.2"/>
<circle cx="260.05" cy="340.00" r="1.35" fill="#222" stroke="none" stroke-width="1.2"/>
<circle cx="344.55" cy="295.20" r="1.35" fill="#222" stroke="none" stroke-width="1.2"/>
<circle cx="348.50" cy="295.20" r="1.35" fill="#222" stroke="none" stroke-width="1.2"/>
<circle cx="352.45" cy="295.20" r="1.35" fill="#222" stroke="none" stroke-width="1.2"/>
<circle cx="357.45" cy="340.00" r="1.35" fill="#222" stroke="none" stroke-width="1.2"/>
<circle cx="361.40" cy="340.00" r="1.35" fill="#222" stroke="none" stroke-width="1.2"/>
<circle cx="365.35" cy="340.00" r="1.35" fill="#222" stroke="none" stroke-width="1.2"/>
<rect x="260.50" y="248.40" width="7.70" height="6.90" fill="#b5082f" />
<text x="271.20" y="254.80" font-size="7.9" text-anchor="start" font-weight="normal" fill="#000000" stroke="#000000" stroke-width="0.4" >Rolling</text>
<rect x="260.50" y="259.80" width="7.70" height="6.90" fill="#2d4e88" />
<text x="271.20" y="266.20" font-size="7.9" text-anchor="start" font-weight="normal" fill="#000000" stroke="#000000" stroke-width="0.4" >Arrest 1 sec</text>
<rect x="260.50" y="271.20" width="7.70" height="6.90" fill="#66b042" />
<text x="271.20" y="277.60" font-size="7.9" text-anchor="start" font-weight="normal" fill="#000000" stroke="#000000" stroke-width="0.4" >Arrest 10 sec</text>
<text x="203.30" y="403.60" font-size="8.1" text-anchor="middle" font-weight="normal" fill="#000000" stroke="#000000" stroke-width="0.4" >WT</text>
<text x="256.10" y="403.60" font-size="8.1" text-anchor="middle" font-weight="normal" fill="#000000" stroke="#000000" stroke-width="0.4" >WT+</text>
<text x="256.10" y="413.40" font-size="8.1" text-anchor="middle" font-weight="normal" fill="#000000" stroke="#000000" stroke-width="0.4" >anti-CCRL2</text>
<text x="309.00" y="403.60" font-size="8.1" text-anchor="middle" font-weight="normal" fill="#000000" stroke="#000000" stroke-width="0.4" >WT+</text>
<text x="309.00" y="413.40" font-size="8.1" text-anchor="middle" font-weight="normal" fill="#000000" stroke="#000000" stroke-width="0.4" >Isotype Ctr</text>
<text x="361.70" y="403.60" font-size="8.1" text-anchor="middle" font-weight="normal" fill="#000000" stroke="#000000" stroke-width="0.4" >CCRL2 KO</text>
<text x="7.30" y="441.80" font-size="12.1" text-anchor="start" font-weight="bold" fill="#111" stroke="#111" stroke-width="0.4" >C</text>
<line x1="65.30" y1="455.00" x2="65.30" y2="526.80" stroke="#000000" stroke-width="1.25" />
<line x1="65.30" y1="526.80" x2="170.40" y2="526.80" stroke="#000000" stroke-width="1.25" />
<line x1="62.30" y1="527.10" x2="65.30" y2="527.10" stroke="#000000" stroke-width="1.2" />
<text x="59.00" y="529.90" font-size="7.9" text-anchor="end" font-weight="normal" fill="#000000" stroke="#000000" stroke-width="0.4" >90</text>
<line x1="62.30" y1="513.00" x2="65.30" y2="513.00" stroke="#000000" stroke-width="1.2" />
<text x="59.00" y="515.80" font-size="7.9" text-anchor="end" font-weight="normal" fill="#000000" stroke="#000000" stroke-width="0.4" >100</text>
<line x1="62.30" y1="498.90" x2="65.30" y2="498.90" stroke="#000000" stroke-width="1.2" />
<text x="59.00" y="501.70" font-size="7.9" text-anchor="end" font-weight="normal" fill="#000000" stroke="#000000" stroke-width="0.4" >110</text>
<line x1="62.30" y1="484.80" x2="65.30" y2="484.80" stroke="#000000" stroke-width="1.2" />
<text x="59.00" y="487.60" font-size="7.9" text-anchor="end" font-weight="normal" fill="#000000" stroke="#000000" stroke-width="0.4" >120</text>
<line x1="62.30" y1="470.70" x2="65.30" y2="470.70" stroke="#000000" stroke-width="1.2" />
<text x="59.00" y="473.50" font-size="7.9" text-anchor="end" font-weight="normal" fill="#000000" stroke="#000000" stroke-width="0.4" >130</text>
<line x1="62.30" y1="456.60" x2="65.30" y2="456.60" stroke="#000000" stroke-width="1.2" />
<text x="59.00" y="459.40" font-size="7.9" text-anchor="end" font-weight="normal" fill="#000000" stroke="#000000" stroke-width="0.4" >140</text>
<line x1="78.20" y1="526.80" x2="78.20" y2="529.80" stroke="#000000" stroke-width="1.2" />
<text x="78.20" y="540.60" font-size="8" text-anchor="middle" font-weight="normal" fill="#000000" stroke="#000000" stroke-width="0.4" >0</text>
<line x1="104.50" y1="526.80" x2="104.50" y2="529.80" stroke="#000000" stroke-width="1.2" />
<text x="104.50" y="540.60" font-size="8" text-anchor="middle" font-weight="normal" fill="#000000" stroke="#000000" stroke-width="0.4" >2</text>
<line x1="131.10" y1="526.80" x2="131.10" y2="529.80" stroke="#000000" stroke-width="1.2" />
<text x="131.10" y="540.60" font-size="8" text-anchor="middle" font-weight="normal" fill="#000000" stroke="#000000" stroke-width="0.4" >5</text>
<line x1="157.20" y1="526.80" x2="157.20" y2="529.80" stroke="#000000" stroke-width="1.2" />
<text x="157.20" y="540.60" font-size="8" text-anchor="middle" font-weight="normal" fill="#000000" stroke="#000000" stroke-width="0.4" >15</text>
<text x="117.50" y="553.60" font-size="8.8" text-anchor="middle" font-weight="normal" fill="#000000" stroke="#000000" stroke-width="0.4" >Time (minutes)</text>
<text transform="translate(27.70,531.30) rotate(-90)" font-size="9.3" fill="#000000" stroke="#000000" stroke-width="0.4" textLength="81.70" lengthAdjust="spacingAndGlyphs">pERK1/2 relative MFI</text>
<text transform="translate(40.00,522.60) rotate(-90)" font-size="9.3" fill="#000000" stroke="#000000" stroke-width="0.4" textLength="64.30" lengthAdjust="spacingAndGlyphs">(% of unst cells)</text>
<line x1="104.50" y1="472.80" x2="104.50" y2="483.40" stroke="#000000" stroke-width="1.2" />
<line x1="101.90" y1="472.80" x2="107.10" y2="472.80" stroke="#000000" stroke-width="1.2" />
<line x1="101.90" y1="483.40" x2="107.10" y2="483.40" stroke="#000000" stroke-width="1.2" />
<line x1="131.10" y1="468.60" x2="131.10" y2="485.70" stroke="#000000" stroke-width="1.2" />
<line x1="128.50" y1="468.60" x2="133.70" y2="468.60" stroke="#000000" stroke-width="1.2" />
<line x1="128.50" y1="485.70" x2="133.70" y2="485.70" stroke="#000000" stroke-width="1.2" />
<line x1="78.20" y1="508.60" x2="78.20" y2="517.30" stroke="#000000" stroke-width="1.2" />
<line x1="75.60" y1="508.60" x2="80.80" y2="508.60" stroke="#000000" stroke-width="1.2" />
<line x1="75.60" y1="517.30" x2="80.80" y2="517.30" stroke="#000000" stroke-width="1.2" />
<line x1="104.50" y1="492.40" x2="104.50" y2="501.20" stroke="#000000" stroke-width="1.2" />
<line x1="101.90" y1="492.40" x2="107.10" y2="492.40" stroke="#000000" stroke-width="1.2" />
<line x1="101.90" y1="501.20" x2="107.10" y2="501.20" stroke="#000000" stroke-width="1.2" />
<line x1="131.10" y1="493.80" x2="131.10" y2="502.60" stroke="#000000" stroke-width="1.2" />
<line x1="128.50" y1="493.80" x2="133.70" y2="493.80" stroke="#000000" stroke-width="1.2" />
<line x1="128.50" y1="502.60" x2="133.70" y2="502.60" stroke="#000000" stroke-width="1.2" />
<line x1="157.20" y1="510.40" x2="157.20" y2="519.60" stroke="#000000" stroke-width="1.2" />
<line x1="154.60" y1="510.40" x2="159.80" y2="510.40" stroke="#000000" stroke-width="1.2" />
<line x1="154.60" y1="519.60" x2="159.80" y2="519.60" stroke="#000000" stroke-width="1.2" />
<polyline points="78.20,513.20 104.50,478.10 131.10,477.40 157.20,515.00" fill="none" stroke="#8c1934" stroke-width="1.8" stroke-linejoin="round" />
<polyline points="78.20,513.20 104.50,496.50 131.10,498.40 157.20,515.00" fill="none" stroke="#27417a" stroke-width="1.8" stroke-linejoin="round" />
<circle cx="78.20" cy="513.20" r="2.4" fill="#fff" stroke="#8c1934" stroke-width="1.35"/>
<circle cx="104.50" cy="478.10" r="2.4" fill="#fff" stroke="#8c1934" stroke-width="1.35"/>
<circle cx="131.10" cy="477.40" r="2.4" fill="#fff" stroke="#8c1934" stroke-width="1.35"/>
<circle cx="157.20" cy="515.00" r="2.4" fill="#fff" stroke="#8c1934" stroke-width="1.35"/>
<circle cx="78.20" cy="513.20" r="3.0" fill="#2c4a85" stroke="none" stroke-width="1.2"/>
<circle cx="104.50" cy="496.50" r="3.0" fill="#2c4a85" stroke="none" stroke-width="1.2"/>
<circle cx="131.10" cy="498.40" r="3.0" fill="#2c4a85" stroke="none" stroke-width="1.2"/>
<circle cx="157.20" cy="515.00" r="3.0" fill="#2c4a85" stroke="none" stroke-width="1.2"/>
<circle cx="104.80" cy="507.80" r="1.15" fill="#222" stroke="none" stroke-width="1.2"/>
<circle cx="130.90" cy="509.30" r="1.15" fill="#222" stroke="none" stroke-width="1.2"/>
<line x1="68.20" y1="456.20" x2="77.80" y2="456.20" stroke="#8c1934" stroke-width="1.5" />
<circle cx="73.00" cy="456.20" r="2.0" fill="#fff" stroke="#8c1934" stroke-width="1.35"/>
<text x="80.80" y="459.00" font-size="7.7" text-anchor="start" font-weight="normal" fill="#000000" stroke="#000000" stroke-width="0.4" >WT</text>
<line x1="68.20" y1="466.60" x2="77.80" y2="466.60" stroke="#27417a" stroke-width="1.5" />
<circle cx="73.00" cy="466.60" r="2.6" fill="#2c4a85" stroke="none" stroke-width="1.2"/>
<text x="80.80" y="469.40" font-size="7.7" text-anchor="start" font-weight="normal" fill="#000000" stroke="#000000" stroke-width="0.4" >CCRL2 KO</text>
<text x="179.20" y="441.50" font-size="12.1" text-anchor="start" font-weight="bold" fill="#111" stroke="#111" stroke-width="0.4" >D</text>
<line x1="236.30" y1="455.00" x2="236.30" y2="526.50" stroke="#000000" stroke-width="1.25" />
<line x1="236.30" y1="526.50" x2="341.60" y2="526.50" stroke="#000000" stroke-width="1.25" />
<line x1="233.30" y1="526.50" x2="236.30" y2="526.50" stroke="#000000" stroke-width="1.2" />
<text x="230.30" y="529.30" font-size="7.9" text-anchor="end" font-weight="normal" fill="#000000" stroke="#000000" stroke-width="0.4" >90</text>
<line x1="233.30" y1="512.63" x2="236.30" y2="512.63" stroke="#000000" stroke-width="1.2" />
<text x="230.30" y="515.43" font-size="7.9" text-anchor="end" font-weight="normal" fill="#000000" stroke="#000000" stroke-width="0.4" >110</text>
<line x1="233.30" y1="498.76" x2="236.30" y2="498.76" stroke="#000000" stroke-width="1.2" />
<text x="230.30" y="501.56" font-size="7.9" text-anchor="end" font-weight="normal" fill="#000000" stroke="#000000" stroke-width="0.4" >130</text>
<line x1="233.30" y1="484.89" x2="236.30" y2="484.89" stroke="#000000" stroke-width="1.2" />
<text x="230.30" y="487.69" font-size="7.9" text-anchor="end" font-weight="normal" fill="#000000" stroke="#000000" stroke-width="0.4" >150</text>
<line x1="233.30" y1="471.02" x2="236.30" y2="471.02" stroke="#000000" stroke-width="1.2" />
<text x="230.30" y="473.82" font-size="7.9" text-anchor="end" font-weight="normal" fill="#000000" stroke="#000000" stroke-width="0.4" >170</text>
<line x1="233.30" y1="457.15" x2="236.30" y2="457.15" stroke="#000000" stroke-width="1.2" />
<text x="230.30" y="459.95" font-size="7.9" text-anchor="end" font-weight="normal" fill="#000000" stroke="#000000" stroke-width="0.4" >190</text>
<line x1="254.70" y1="526.50" x2="254.70" y2="529.50" stroke="#000000" stroke-width="1.2" />
<text x="254.70" y="540.60" font-size="8" text-anchor="middle" font-weight="normal" fill="#000000" stroke="#000000" stroke-width="0.4" >0</text>
<line x1="289.70" y1="526.50" x2="289.70" y2="529.50" stroke="#000000" stroke-width="1.2" />
<text x="289.70" y="540.60" font-size="8" text-anchor="middle" font-weight="normal" fill="#000000" stroke="#000000" stroke-width="0.4" >1</text>
<line x1="323.90" y1="526.50" x2="323.90" y2="529.50" stroke="#000000" stroke-width="1.2" />
<text x="323.90" y="540.60" font-size="8" text-anchor="middle" font-weight="normal" fill="#000000" stroke="#000000" stroke-width="0.4" >5</text>
<text x="289.00" y="553.60" font-size="8.8" text-anchor="middle" font-weight="normal" fill="#000000" stroke="#000000" stroke-width="0.4" >Time (minutes)</text>
<text transform="translate(199.40,534.20) rotate(-90)" font-size="9.3" fill="#000000" stroke="#000000" stroke-width="0.4" textLength="87.20" lengthAdjust="spacingAndGlyphs">RhoA MFI (normalized</text>
<text transform="translate(211.50,520.00) rotate(-90)" font-size="9.3" fill="#000000" stroke="#000000" stroke-width="0.4" textLength="58.50" lengthAdjust="spacingAndGlyphs">on isotype ctrl)</text>
<line x1="289.70" y1="471.90" x2="289.70" y2="488.60" stroke="#000000" stroke-width="1.2" />
<line x1="287.10" y1="471.90" x2="292.30" y2="471.90" stroke="#000000" stroke-width="1.2" />
<line x1="287.10" y1="488.60" x2="292.30" y2="488.60" stroke="#000000" stroke-width="1.2" />
<line x1="323.90" y1="510.50" x2="323.90" y2="518.00" stroke="#000000" stroke-width="1.2" />
<line x1="321.30" y1="510.50" x2="326.50" y2="510.50" stroke="#000000" stroke-width="1.2" />
<line x1="321.30" y1="518.00" x2="326.50" y2="518.00" stroke="#000000" stroke-width="1.2" />
<line x1="289.70" y1="509.60" x2="289.70" y2="515.50" stroke="#000000" stroke-width="1.2" />
<line x1="287.10" y1="509.60" x2="292.30" y2="509.60" stroke="#000000" stroke-width="1.2" />
<line x1="287.10" y1="515.50" x2="292.30" y2="515.50" stroke="#000000" stroke-width="1.2" />
<line x1="323.90" y1="506.40" x2="323.90" y2="517.70" stroke="#000000" stroke-width="1.2" />
<line x1="321.30" y1="506.40" x2="326.50" y2="506.40" stroke="#000000" stroke-width="1.2" />
<line x1="321.30" y1="517.70" x2="326.50" y2="517.70" stroke="#000000" stroke-width="1.2" />
<polyline points="254.70,519.57 289.70,480.73 323.90,514.02" fill="none" stroke="#8c1934" stroke-width="1.8" stroke-linejoin="round" />
<polyline points="254.70,519.57 289.70,512.63 323.90,510.55" fill="none" stroke="#27417a" stroke-width="1.8" stroke-linejoin="round" />
<circle cx="254.70" cy="519.57" r="2.4" fill="#fff" stroke="#8c1934" stroke-width="1.35"/>
<circle cx="289.70" cy="480.73" r="2.4" fill="#fff" stroke="#8c1934" stroke-width="1.35"/>
<circle cx="323.90" cy="514.02" r="2.4" fill="#fff" stroke="#8c1934" stroke-width="1.35"/>
<circle cx="254.70" cy="519.57" r="3.0" fill="#2c4a85" stroke="none" stroke-width="1.2"/>
<circle cx="289.70" cy="512.63" r="3.0" fill="#2c4a85" stroke="none" stroke-width="1.2"/>
<circle cx="323.90" cy="510.55" r="3.0" fill="#2c4a85" stroke="none" stroke-width="1.2"/>
<circle cx="287.10" cy="502.10" r="1.25" fill="#222" stroke="none" stroke-width="1.2"/>
<circle cx="291.30" cy="502.10" r="1.25" fill="#222" stroke="none" stroke-width="1.2"/>
<line x1="242.30" y1="456.30" x2="251.90" y2="456.30" stroke="#8c1934" stroke-width="1.5" />
<circle cx="247.10" cy="456.30" r="2.0" fill="#fff" stroke="#8c1934" stroke-width="1.35"/>
<text x="253.80" y="459.10" font-size="7.7" text-anchor="start" font-weight="normal" fill="#000000" stroke="#000000" stroke-width="0.4" >WT</text>
<line x1="242.30" y1="467.10" x2="251.90" y2="467.10" stroke="#27417a" stroke-width="1.5" />
<circle cx="247.10" cy="467.10" r="2.6" fill="#2c4a85" stroke="none" stroke-width="1.2"/>
<text x="253.80" y="469.90" font-size="7.7" text-anchor="start" font-weight="normal" fill="#000000" stroke="#000000" stroke-width="0.4" >CCRL2 KO</text>
<text x="351.10" y="441.80" font-size="12.1" text-anchor="start" font-weight="bold" fill="#111" stroke="#111" stroke-width="0.4" >E</text>
<line x1="407.00" y1="455.00" x2="407.00" y2="526.30" stroke="#000000" stroke-width="1.25" />
<line x1="407.00" y1="526.30" x2="512.30" y2="526.30" stroke="#000000" stroke-width="1.25" />
<line x1="404.00" y1="526.25" x2="407.00" y2="526.25" stroke="#000000" stroke-width="1.2" />
<text x="402.00" y="529.05" font-size="7.9" text-anchor="end" font-weight="normal" fill="#000000" stroke="#000000" stroke-width="0.4" >80</text>
<line x1="404.00" y1="514.58" x2="407.00" y2="514.58" stroke="#000000" stroke-width="1.2" />
<text x="402.00" y="517.38" font-size="7.9" text-anchor="end" font-weight="normal" fill="#000000" stroke="#000000" stroke-width="0.4" >90</text>
<line x1="404.00" y1="502.92" x2="407.00" y2="502.92" stroke="#000000" stroke-width="1.2" />
<text x="402.00" y="505.72" font-size="7.9" text-anchor="end" font-weight="normal" fill="#000000" stroke="#000000" stroke-width="0.4" >100</text>
<line x1="404.00" y1="491.25" x2="407.00" y2="491.25" stroke="#000000" stroke-width="1.2" />
<text x="402.00" y="494.05" font-size="7.9" text-anchor="end" font-weight="normal" fill="#000000" stroke="#000000" stroke-width="0.4" >110</text>
<line x1="404.00" y1="479.58" x2="407.00" y2="479.58" stroke="#000000" stroke-width="1.2" />
<text x="402.00" y="482.38" font-size="7.9" text-anchor="end" font-weight="normal" fill="#000000" stroke="#000000" stroke-width="0.4" >120</text>
<line x1="404.00" y1="467.92" x2="407.00" y2="467.92" stroke="#000000" stroke-width="1.2" />
<text x="402.00" y="470.72" font-size="7.9" text-anchor="end" font-weight="normal" fill="#000000" stroke="#000000" stroke-width="0.4" >130</text>
<line x1="404.00" y1="456.25" x2="407.00" y2="456.25" stroke="#000000" stroke-width="1.2" />
<text x="402.00" y="459.05" font-size="7.9" text-anchor="end" font-weight="normal" fill="#000000" stroke="#000000" stroke-width="0.4" >140</text>
<line x1="425.00" y1="526.30" x2="425.00" y2="529.30" stroke="#000000" stroke-width="1.2" />
<text x="425.00" y="540.60" font-size="8" text-anchor="middle" font-weight="normal" fill="#000000" stroke="#000000" stroke-width="0.4" >0</text>
<line x1="460.50" y1="526.30" x2="460.50" y2="529.30" stroke="#000000" stroke-width="1.2" />
<text x="460.50" y="540.60" font-size="8" text-anchor="middle" font-weight="normal" fill="#000000" stroke="#000000" stroke-width="0.4" >1</text>
<line x1="495.00" y1="526.30" x2="495.00" y2="529.30" stroke="#000000" stroke-width="1.2" />
<text x="495.00" y="540.60" font-size="8" text-anchor="middle" font-weight="normal" fill="#000000" stroke="#000000" stroke-width="0.4" >5</text>
<text x="459.70" y="553.60" font-size="8.8" text-anchor="middle" font-weight="normal" fill="#000000" stroke="#000000" stroke-width="0.4" >Time (minutes)</text>
<text transform="translate(370.60,533.20) rotate(-90)" font-size="9.3" fill="#000000" stroke="#000000" stroke-width="0.4" textLength="85.60" lengthAdjust="spacingAndGlyphs">Rac1 MFI (normalized</text>
<text transform="translate(382.10,520.20) rotate(-90)" font-size="9.3" fill="#000000" stroke="#000000" stroke-width="0.4" textLength="59.60" lengthAdjust="spacingAndGlyphs">on isotype ctrl)</text>
<line x1="460.50" y1="475.50" x2="460.50" y2="493.75" stroke="#000000" stroke-width="1.2" />
<line x1="457.90" y1="475.50" x2="463.10" y2="475.50" stroke="#000000" stroke-width="1.2" />
<line x1="457.90" y1="493.75" x2="463.10" y2="493.75" stroke="#000000" stroke-width="1.2" />
<line x1="495.00" y1="470.50" x2="495.00" y2="485.50" stroke="#000000" stroke-width="1.2" />
<line x1="492.40" y1="470.50" x2="497.60" y2="470.50" stroke="#000000" stroke-width="1.2" />
<line x1="492.40" y1="485.50" x2="497.60" y2="485.50" stroke="#000000" stroke-width="1.2" />
<line x1="460.50" y1="503.75" x2="460.50" y2="512.50" stroke="#000000" stroke-width="1.2" />
<line x1="457.90" y1="503.75" x2="463.10" y2="503.75" stroke="#000000" stroke-width="1.2" />
<line x1="457.90" y1="512.50" x2="463.10" y2="512.50" stroke="#000000" stroke-width="1.2" />
<line x1="495.00" y1="501.25" x2="495.00" y2="510.00" stroke="#000000" stroke-width="1.2" />
<line x1="492.40" y1="501.25" x2="497.60" y2="501.25" stroke="#000000" stroke-width="1.2" />
<line x1="492.40" y1="510.00" x2="497.60" y2="510.00" stroke="#000000" stroke-width="1.2" />
<polyline points="425.00,502.92 460.50,484.25 495.00,478.00" fill="none" stroke="#8c1934" stroke-width="1.8" stroke-linejoin="round" />
<polyline points="425.00,502.92 460.50,508.00 495.00,505.50" fill="none" stroke="#27417a" stroke-width="1.8" stroke-linejoin="round" />
<circle cx="425.00" cy="502.92" r="2.4" fill="#fff" stroke="#8c1934" stroke-width="1.35"/>
<circle cx="460.50" cy="484.25" r="2.4" fill="#fff" stroke="#8c1934" stroke-width="1.35"/>
<circle cx="495.00" cy="478.00" r="2.4" fill="#fff" stroke="#8c1934" stroke-width="1.35"/>
<circle cx="425.00" cy="502.92" r="3.0" fill="#2c4a85" stroke="none" stroke-width="1.2"/>
<circle cx="460.50" cy="508.00" r="3.0" fill="#2c4a85" stroke="none" stroke-width="1.2"/>
<circle cx="495.00" cy="505.50" r="3.0" fill="#2c4a85" stroke="none" stroke-width="1.2"/>
<circle cx="460.50" cy="518.20" r="1.2" fill="#222" stroke="none" stroke-width="1.2"/>
<circle cx="493.20" cy="517.50" r="1.2" fill="#222" stroke="none" stroke-width="1.2"/>
<circle cx="497.20" cy="517.50" r="1.2" fill="#222" stroke="none" stroke-width="1.2"/>
<line x1="412.70" y1="456.30" x2="422.30" y2="456.30" stroke="#8c1934" stroke-width="1.5" />
<circle cx="417.50" cy="456.30" r="2.0" fill="#fff" stroke="#8c1934" stroke-width="1.35"/>
<text x="425.00" y="459.10" font-size="7.7" text-anchor="start" font-weight="normal" fill="#000000" stroke="#000000" stroke-width="0.4" >WT</text>
<line x1="412.70" y1="466.80" x2="422.30" y2="466.80" stroke="#27417a" stroke-width="1.5" />
<circle cx="417.50" cy="466.80" r="2.6" fill="#2c4a85" stroke="none" stroke-width="1.2"/>
<text x="425.00" y="469.60" font-size="7.7" text-anchor="start" font-weight="normal" fill="#000000" stroke="#000000" stroke-width="0.4" >CCRL2 KO</text>
<text x="7.40" y="582.50" font-size="12.1" text-anchor="start" font-weight="bold" fill="#111" stroke="#111" stroke-width="0.4" >F</text>
<line x1="50.60" y1="603.00" x2="50.60" y2="683.60" stroke="#000000" stroke-width="1.25" />
<line x1="50.60" y1="683.60" x2="169.10" y2="683.60" stroke="#000000" stroke-width="1.3" />
<line x1="47.60" y1="671.70" x2="50.60" y2="671.70" stroke="#000000" stroke-width="1.2" />
<text x="44.60" y="674.70" font-size="8.3" text-anchor="end" font-weight="normal" fill="#000000" stroke="#000000" stroke-width="0.4" >0.0</text>
<line x1="47.60" y1="658.50" x2="50.60" y2="658.50" stroke="#000000" stroke-width="1.2" />
<text x="44.60" y="661.50" font-size="8.3" text-anchor="end" font-weight="normal" fill="#000000" stroke="#000000" stroke-width="0.4" >0.2</text>
<line x1="47.60" y1="645.30" x2="50.60" y2="645.30" stroke="#000000" stroke-width="1.2" />
<text x="44.60" y="648.30" font-size="8.3" text-anchor="end" font-weight="normal" fill="#000000" stroke="#000000" stroke-width="0.4" >0.4</text>
<line x1="47.60" y1="632.10" x2="50.60" y2="632.10" stroke="#000000" stroke-width="1.2" />
<text x="44.60" y="635.10" font-size="8.3" text-anchor="end" font-weight="normal" fill="#000000" stroke="#000000" stroke-width="0.4" >0.6</text>
<line x1="47.60" y1="618.90" x2="50.60" y2="618.90" stroke="#000000" stroke-width="1.2" />
<text x="44.60" y="621.90" font-size="8.3" text-anchor="end" font-weight="normal" fill="#000000" stroke="#000000" stroke-width="0.4" >0.8</text>
<line x1="47.60" y1="605.70" x2="50.60" y2="605.70" stroke="#000000" stroke-width="1.2" />
<text x="44.60" y="608.70" font-size="8.3" text-anchor="end" font-weight="normal" fill="#000000" stroke="#000000" stroke-width="0.4" >1.0</text>
<line x1="50.60" y1="683.60" x2="50.60" y2="686.60" stroke="#000000" stroke-width="1.2" />
<text x="50.60" y="697.00" font-size="8.3" text-anchor="middle" font-weight="normal" fill="#000000" stroke="#000000" stroke-width="0.4" >0</text>
<line x1="69.68" y1="683.60" x2="69.68" y2="686.60" stroke="#000000" stroke-width="1.2" />
<text x="69.68" y="697.00" font-size="8.3" text-anchor="middle" font-weight="normal" fill="#000000" stroke="#000000" stroke-width="0.4" >30</text>
<line x1="88.77" y1="683.60" x2="88.77" y2="686.60" stroke="#000000" stroke-width="1.2" />
<text x="88.77" y="697.00" font-size="8.3" text-anchor="middle" font-weight="normal" fill="#000000" stroke="#000000" stroke-width="0.4" >60</text>
<line x1="107.85" y1="683.60" x2="107.85" y2="686.60" stroke="#000000" stroke-width="1.2" />
<text x="107.85" y="697.00" font-size="8.3" text-anchor="middle" font-weight="normal" fill="#000000" stroke="#000000" stroke-width="0.4" >90</text>
<line x1="126.93" y1="683.60" x2="126.93" y2="686.60" stroke="#000000" stroke-width="1.2" />
<text x="126.93" y="697.00" font-size="8.3" text-anchor="middle" font-weight="normal" fill="#000000" stroke="#000000" stroke-width="0.4" >120</text>
<line x1="146.02" y1="683.60" x2="146.02" y2="686.60" stroke="#000000" stroke-width="1.2" />
<text x="146.02" y="697.00" font-size="8.3" text-anchor="middle" font-weight="normal" fill="#000000" stroke="#000000" stroke-width="0.4" >150</text>
<line x1="165.10" y1="683.60" x2="165.10" y2="686.60" stroke="#000000" stroke-width="1.2" />
<text x="165.10" y="697.00" font-size="8.3" text-anchor="middle" font-weight="normal" fill="#000000" stroke="#000000" stroke-width="0.4" >180</text>
<text x="109.85" y="710.00" font-size="9.0" text-anchor="middle" font-weight="normal" fill="#000000" stroke="#000000" stroke-width="0.4" >Time (sec)</text>
<line x1="59.51" y1="671.70" x2="165.10" y2="671.70" stroke="#222" stroke-width="1.3" stroke-dasharray="1.3 1.9"/>
<path d="M50.60,671.70 C51.24,671.70 53.52,671.48 54.42,671.70 C55.32,671.92 55.58,672.25 56.01,673.02 C56.43,673.79 56.59,675.88 56.96,676.32 C57.33,676.76 57.81,677.75 58.23,675.66 C58.66,673.57 58.98,669.39 59.51,663.78 C60.04,658.17 60.67,648.38 61.41,642.00 C62.16,635.62 63.00,629.46 63.96,625.50 C64.91,621.54 66.29,619.45 67.14,618.24 C67.99,617.03 68.20,617.69 69.05,618.24 C69.90,618.79 70.64,619.23 72.23,621.54 C73.82,623.85 75.83,628.14 78.59,632.10 C81.35,636.06 84.95,641.34 88.77,645.30 C92.58,649.26 97.25,652.89 101.49,655.86 C105.73,658.83 109.97,661.25 114.21,663.12 C118.45,664.99 122.69,666.04 126.93,667.08 C131.17,668.12 135.41,668.73 139.66,669.39 C143.90,670.05 148.14,670.49 152.38,671.04 C156.62,671.59 162.98,672.42 165.10,672.69" fill="none" stroke="#8c1934" stroke-width="1.7" stroke-linecap="round" stroke-linejoin="round" />
<path d="M59.51,671.70 C59.82,669.72 60.67,663.56 61.41,659.82 C62.16,656.08 63.00,651.79 63.96,649.26 C64.91,646.73 66.29,645.41 67.14,644.64 C67.99,643.87 68.20,644.31 69.05,644.64 C69.90,644.97 70.64,645.52 72.23,646.62 C73.82,647.72 75.83,649.26 78.59,651.24 C81.35,653.22 84.95,656.19 88.77,658.50 C92.58,660.81 97.25,663.23 101.49,665.10 C105.73,666.97 109.97,668.51 114.21,669.72 C118.45,670.93 122.69,671.64 126.93,672.36 C131.17,673.08 135.41,673.57 139.66,674.01 C143.90,674.45 148.14,674.73 152.38,675.00 C156.62,675.27 162.98,675.55 165.10,675.66" fill="none" stroke="#2c4a85" stroke-width="1.7" stroke-linecap="round" stroke-linejoin="round" />
<path d="M59.51,673.68 C59.93,673.35 60.99,672.14 62.05,671.70 C63.11,671.26 64.59,671.26 65.87,671.04 C67.14,670.82 67.99,670.38 69.68,670.38 C71.38,670.38 72.86,670.60 76.04,671.04 C79.23,671.48 84.53,672.36 88.77,673.02 C93.01,673.68 97.25,674.50 101.49,675.00 C105.73,675.50 108.91,675.72 114.21,675.99 C119.51,676.26 126.93,676.49 133.29,676.65 C139.66,676.82 147.08,676.89 152.38,676.98 C157.68,677.07 162.98,677.14 165.10,677.18" fill="none" stroke="#66b042" stroke-width="1.7" stroke-linecap="round" stroke-linejoin="round" />
<path d="M59.51,675.00 C60.14,675.00 61.63,675.16 63.32,675.00 C65.02,674.84 67.03,674.17 69.68,674.01 C72.33,673.85 76.04,673.90 79.22,674.01 C82.41,674.12 85.06,674.40 88.77,674.67 C92.48,674.95 97.25,675.44 101.49,675.66 C105.73,675.88 108.91,675.90 114.21,675.99 C119.51,676.08 126.93,676.13 133.29,676.19 C139.66,676.24 147.08,676.30 152.38,676.32 C157.68,676.34 162.98,676.32 165.10,676.32" fill="none" stroke="#3b2a5e" stroke-width="1.7" stroke-linecap="round" stroke-linejoin="round" />
<line x1="117.50" y1="611.40" x2="127.30" y2="611.40" stroke="#8c1934" stroke-width="2.0" />
<text x="131.10" y="614.20" font-size="7.6" text-anchor="start" font-weight="normal" fill="#000000" stroke="#000000" stroke-width="0.4" >1 µM</text>
<line x1="117.50" y1="623.05" x2="127.30" y2="623.05" stroke="#2c4a85" stroke-width="2.0" />
<text x="131.10" y="625.85" font-size="7.6" text-anchor="start" font-weight="normal" fill="#000000" stroke="#000000" stroke-width="0.4" >100 nM</text>
<line x1="117.50" y1="634.70" x2="127.30" y2="634.70" stroke="#66b042" stroke-width="2.0" />
<text x="131.10" y="637.50" font-size="7.6" text-anchor="start" font-weight="normal" fill="#000000" stroke="#000000" stroke-width="0.4" >10 nM</text>
<line x1="117.50" y1="646.35" x2="127.30" y2="646.35" stroke="#3b2a5e" stroke-width="2.0" />
<text x="131.10" y="649.15" font-size="7.6" text-anchor="start" font-weight="normal" fill="#000000" stroke="#000000" stroke-width="0.4" >buffer</text>
<text x="109.85" y="596.80" font-size="9.7" text-anchor="middle" font-weight="normal" fill="#000000" stroke="#000000" stroke-width="0.4" >WT</text>
<line x1="212.20" y1="603.00" x2="212.20" y2="683.60" stroke="#000000" stroke-width="1.25" />
<line x1="212.20" y1="683.60" x2="331.50" y2="683.60" stroke="#000000" stroke-width="1.3" />
<line x1="209.20" y1="671.80" x2="212.20" y2="671.80" stroke="#000000" stroke-width="1.2" />
<text x="206.20" y="674.80" font-size="8.3" text-anchor="end" font-weight="normal" fill="#000000" stroke="#000000" stroke-width="0.4" >0.0</text>
<line x1="209.20" y1="658.52" x2="212.20" y2="658.52" stroke="#000000" stroke-width="1.2" />
<text x="206.20" y="661.52" font-size="8.3" text-anchor="end" font-weight="normal" fill="#000000" stroke="#000000" stroke-width="0.4" >0.2</text>
<line x1="209.20" y1="645.24" x2="212.20" y2="645.24" stroke="#000000" stroke-width="1.2" />
<text x="206.20" y="648.24" font-size="8.3" text-anchor="end" font-weight="normal" fill="#000000" stroke="#000000" stroke-width="0.4" >0.4</text>
<line x1="209.20" y1="631.96" x2="212.20" y2="631.96" stroke="#000000" stroke-width="1.2" />
<text x="206.20" y="634.96" font-size="8.3" text-anchor="end" font-weight="normal" fill="#000000" stroke="#000000" stroke-width="0.4" >0.6</text>
<line x1="209.20" y1="618.68" x2="212.20" y2="618.68" stroke="#000000" stroke-width="1.2" />
<text x="206.20" y="621.68" font-size="8.3" text-anchor="end" font-weight="normal" fill="#000000" stroke="#000000" stroke-width="0.4" >0.8</text>
<line x1="209.20" y1="605.40" x2="212.20" y2="605.40" stroke="#000000" stroke-width="1.2" />
<text x="206.20" y="608.40" font-size="8.3" text-anchor="end" font-weight="normal" fill="#000000" stroke="#000000" stroke-width="0.4" >1.0</text>
<line x1="212.20" y1="683.60" x2="212.20" y2="686.60" stroke="#000000" stroke-width="1.2" />
<text x="212.20" y="697.00" font-size="8.3" text-anchor="middle" font-weight="normal" fill="#000000" stroke="#000000" stroke-width="0.4" >0</text>
<line x1="231.58" y1="683.60" x2="231.58" y2="686.60" stroke="#000000" stroke-width="1.2" />
<text x="231.58" y="697.00" font-size="8.3" text-anchor="middle" font-weight="normal" fill="#000000" stroke="#000000" stroke-width="0.4" >30</text>
<line x1="250.97" y1="683.60" x2="250.97" y2="686.60" stroke="#000000" stroke-width="1.2" />
<text x="250.97" y="697.00" font-size="8.3" text-anchor="middle" font-weight="normal" fill="#000000" stroke="#000000" stroke-width="0.4" >60</text>
<line x1="270.35" y1="683.60" x2="270.35" y2="686.60" stroke="#000000" stroke-width="1.2" />
<text x="270.35" y="697.00" font-size="8.3" text-anchor="middle" font-weight="normal" fill="#000000" stroke="#000000" stroke-width="0.4" >90</text>
<line x1="289.73" y1="683.60" x2="289.73" y2="686.60" stroke="#000000" stroke-width="1.2" />
<text x="289.73" y="697.00" font-size="8.3" text-anchor="middle" font-weight="normal" fill="#000000" stroke="#000000" stroke-width="0.4" >120</text>
<line x1="309.12" y1="683.60" x2="309.12" y2="686.60" stroke="#000000" stroke-width="1.2" />
<text x="309.12" y="697.00" font-size="8.3" text-anchor="middle" font-weight="normal" fill="#000000" stroke="#000000" stroke-width="0.4" >150</text>
<line x1="328.50" y1="683.60" x2="328.50" y2="686.60" stroke="#000000" stroke-width="1.2" />
<text x="328.50" y="697.00" font-size="8.3" text-anchor="middle" font-weight="normal" fill="#000000" stroke="#000000" stroke-width="0.4" >180</text>
<text x="272.35" y="710.00" font-size="9.0" text-anchor="middle" font-weight="normal" fill="#000000" stroke="#000000" stroke-width="0.4" >Time (sec)</text>
<line x1="221.25" y1="671.80" x2="328.50" y2="671.80" stroke="#222" stroke-width="1.3" stroke-dasharray="1.3 1.9"/>
<path d="M212.20,671.80 C212.74,671.80 214.68,671.58 215.43,671.80 C216.18,672.02 216.29,672.69 216.72,673.13 C217.15,673.57 217.58,674.35 218.01,674.46 C218.45,674.57 218.77,675.12 219.31,673.79 C219.85,672.46 220.49,669.59 221.25,666.49 C222.00,663.39 222.86,658.08 223.83,655.20 C224.80,652.32 225.88,650.55 227.06,649.22 C228.25,647.90 229.64,647.34 230.94,647.23 C232.23,647.12 233.09,647.56 234.81,648.56 C236.54,649.56 238.58,651.33 241.27,653.21 C243.97,655.09 247.20,657.86 250.97,659.85 C254.74,661.84 259.58,663.67 263.89,665.16 C268.20,666.65 272.50,667.82 276.81,668.81 C281.12,669.81 285.43,670.58 289.73,671.14 C294.04,671.69 298.35,671.86 302.66,672.13 C306.96,672.41 311.27,672.63 315.58,672.80 C319.89,672.96 326.35,673.07 328.50,673.13" fill="none" stroke="#8c1934" stroke-width="1.7" stroke-linecap="round" stroke-linejoin="round" />
<path d="M219.31,673.79 C219.63,673.13 220.38,671.36 221.25,669.81 C222.11,668.26 223.40,665.82 224.48,664.50 C225.55,663.17 226.52,662.39 227.71,661.84 C228.89,661.29 229.86,660.95 231.58,661.18 C233.31,661.40 235.35,662.39 238.04,663.17 C240.74,663.94 244.51,664.88 247.74,665.82 C250.97,666.76 253.66,667.93 257.43,668.81 C261.20,669.70 266.04,670.53 270.35,671.14 C274.66,671.74 277.89,672.02 283.27,672.46 C288.66,672.91 295.12,673.46 302.66,673.79 C310.19,674.12 324.19,674.35 328.50,674.46" fill="none" stroke="#2c4a85" stroke-width="1.7" stroke-linecap="round" stroke-linejoin="round" />
<path d="M219.31,673.79 C220.06,673.46 222.21,672.30 223.83,671.80 C225.45,671.30 227.28,670.91 229.00,670.80 C230.72,670.69 231.58,670.86 234.17,671.14 C236.75,671.41 240.63,672.02 244.51,672.46 C248.38,672.91 252.04,673.40 257.43,673.79 C262.81,674.18 269.27,674.57 276.81,674.79 C284.35,675.01 294.04,675.06 302.66,675.12 C311.27,675.18 324.19,675.12 328.50,675.12" fill="none" stroke="#66b042" stroke-width="1.7" stroke-linecap="round" stroke-linejoin="round" />
<path d="M219.31,673.79 C220.06,673.52 222.00,672.52 223.83,672.13 C225.66,671.74 227.92,671.52 230.29,671.47 C232.66,671.41 234.60,671.52 238.04,671.80 C241.49,672.08 245.58,672.74 250.97,673.13 C256.35,673.52 262.81,673.85 270.35,674.12 C277.89,674.40 286.50,674.62 296.19,674.79 C305.89,674.95 323.12,675.06 328.50,675.12" fill="none" stroke="#3b2a5e" stroke-width="1.7" stroke-linecap="round" stroke-linejoin="round" />
<line x1="277.00" y1="611.40" x2="286.80" y2="611.40" stroke="#8c1934" stroke-width="2.0" />
<text x="290.60" y="614.20" font-size="7.6" text-anchor="start" font-weight="normal" fill="#000000" stroke="#000000" stroke-width="0.4" >1 µM</text>
<line x1="277.00" y1="623.05" x2="286.80" y2="623.05" stroke="#2c4a85" stroke-width="2.0" />
<text x="290.60" y="625.85" font-size="7.6" text-anchor="start" font-weight="normal" fill="#000000" stroke="#000000" stroke-width="0.4" >100 nM</text>
<line x1="277.00" y1="634.70" x2="286.80" y2="634.70" stroke="#66b042" stroke-width="2.0" />
<text x="290.60" y="637.50" font-size="7.6" text-anchor="start" font-weight="normal" fill="#000000" stroke="#000000" stroke-width="0.4" >10 nM</text>
<line x1="277.00" y1="646.35" x2="286.80" y2="646.35" stroke="#3b2a5e" stroke-width="2.0" />
<text x="290.60" y="649.15" font-size="7.6" text-anchor="start" font-weight="normal" fill="#000000" stroke="#000000" stroke-width="0.4" >buffer</text>
<text x="272.20" y="596.70" font-size="9.6" text-anchor="middle" font-weight="normal" fill="#000000" stroke="#000000" stroke-width="0.4" >CCRL2 KO</text>
<line x1="373.40" y1="593.50" x2="373.40" y2="683.20" stroke="#000000" stroke-width="1.25" />
<line x1="373.40" y1="683.20" x2="399.70" y2="683.20" stroke="#000000" stroke-width="1.25" />
<line x1="405.70" y1="683.20" x2="509.50" y2="683.20" stroke="#000000" stroke-width="1.25" />
<line x1="405.70" y1="683.20" x2="405.70" y2="688.00" stroke="#000000" stroke-width="1.2" />
<line x1="370.40" y1="682.80" x2="373.40" y2="682.80" stroke="#000000" stroke-width="1.2" />
<text x="368.50" y="685.80" font-size="8.3" text-anchor="end" font-weight="normal" fill="#000000" stroke="#000000" stroke-width="0.4" >0.0</text>
<line x1="370.40" y1="665.58" x2="373.40" y2="665.58" stroke="#000000" stroke-width="1.2" />
<text x="368.50" y="668.58" font-size="8.3" text-anchor="end" font-weight="normal" fill="#000000" stroke="#000000" stroke-width="0.4" >0.2</text>
<line x1="370.40" y1="648.36" x2="373.40" y2="648.36" stroke="#000000" stroke-width="1.2" />
<text x="368.50" y="651.36" font-size="8.3" text-anchor="end" font-weight="normal" fill="#000000" stroke="#000000" stroke-width="0.4" >0.4</text>
<line x1="370.40" y1="631.14" x2="373.40" y2="631.14" stroke="#000000" stroke-width="1.2" />
<text x="368.50" y="634.14" font-size="8.3" text-anchor="end" font-weight="normal" fill="#000000" stroke="#000000" stroke-width="0.4" >0.6</text>
<line x1="370.40" y1="613.92" x2="373.40" y2="613.92" stroke="#000000" stroke-width="1.2" />
<text x="368.50" y="616.92" font-size="8.3" text-anchor="end" font-weight="normal" fill="#000000" stroke="#000000" stroke-width="0.4" >0.8</text>
<line x1="370.40" y1="596.70" x2="373.40" y2="596.70" stroke="#000000" stroke-width="1.2" />
<text x="368.50" y="599.70" font-size="8.3" text-anchor="end" font-weight="normal" fill="#000000" stroke="#000000" stroke-width="0.4" >1.0</text>
<g transform="translate(350.70,648.70) rotate(-90)" fill="#000000" stroke="#000000" stroke-width="0.4"><text x="0" y="0" font-size="9.8" textLength="17.4" lengthAdjust="spacingAndGlyphs">ΔF/F</text><text x="17.5" y="2.3" font-size="7">0</text></g>
<line x1="413.83" y1="683.20" x2="413.83" y2="685.20" stroke="#000000" stroke-width="0.8" />
<line x1="418.23" y1="683.20" x2="418.23" y2="685.20" stroke="#000000" stroke-width="0.8" />
<line x1="421.35" y1="683.20" x2="421.35" y2="685.20" stroke="#000000" stroke-width="0.8" />
<line x1="423.77" y1="683.20" x2="423.77" y2="685.20" stroke="#000000" stroke-width="0.8" />
<line x1="425.75" y1="683.20" x2="425.75" y2="685.20" stroke="#000000" stroke-width="0.8" />
<line x1="427.43" y1="683.20" x2="427.43" y2="685.20" stroke="#000000" stroke-width="0.8" />
<line x1="428.88" y1="683.20" x2="428.88" y2="685.20" stroke="#000000" stroke-width="0.8" />
<line x1="430.16" y1="683.20" x2="430.16" y2="685.20" stroke="#000000" stroke-width="0.8" />
<text x="407.80" y="696.2" font-size="7.9" text-anchor="end" fill="#000000" stroke="#000000" stroke-width="0.4">10</text>
<text x="408.00" y="692.6" font-size="5.6" fill="#000000" stroke="#000000" stroke-width="0.2">-9</text>
<line x1="431.30" y1="683.20" x2="431.30" y2="686.60" stroke="#000000" stroke-width="1.1" />
<line x1="438.83" y1="683.20" x2="438.83" y2="685.20" stroke="#000000" stroke-width="0.8" />
<line x1="443.23" y1="683.20" x2="443.23" y2="685.20" stroke="#000000" stroke-width="0.8" />
<line x1="446.35" y1="683.20" x2="446.35" y2="685.20" stroke="#000000" stroke-width="0.8" />
<line x1="448.77" y1="683.20" x2="448.77" y2="685.20" stroke="#000000" stroke-width="0.8" />
<line x1="450.75" y1="683.20" x2="450.75" y2="685.20" stroke="#000000" stroke-width="0.8" />
<line x1="452.43" y1="683.20" x2="452.43" y2="685.20" stroke="#000000" stroke-width="0.8" />
<line x1="453.88" y1="683.20" x2="453.88" y2="685.20" stroke="#000000" stroke-width="0.8" />
<line x1="455.16" y1="683.20" x2="455.16" y2="685.20" stroke="#000000" stroke-width="0.8" />
<text x="432.80" y="696.2" font-size="7.9" text-anchor="end" fill="#000000" stroke="#000000" stroke-width="0.4">10</text>
<text x="433.00" y="692.6" font-size="5.6" fill="#000000" stroke="#000000" stroke-width="0.2">-8</text>
<line x1="456.30" y1="683.20" x2="456.30" y2="686.60" stroke="#000000" stroke-width="1.1" />
<line x1="463.83" y1="683.20" x2="463.83" y2="685.20" stroke="#000000" stroke-width="0.8" />
<line x1="468.23" y1="683.20" x2="468.23" y2="685.20" stroke="#000000" stroke-width="0.8" />
<line x1="471.35" y1="683.20" x2="471.35" y2="685.20" stroke="#000000" stroke-width="0.8" />
<line x1="473.77" y1="683.20" x2="473.77" y2="685.20" stroke="#000000" stroke-width="0.8" />
<line x1="475.75" y1="683.20" x2="475.75" y2="685.20" stroke="#000000" stroke-width="0.8" />
<line x1="477.43" y1="683.20" x2="477.43" y2="685.20" stroke="#000000" stroke-width="0.8" />
<line x1="478.88" y1="683.20" x2="478.88" y2="685.20" stroke="#000000" stroke-width="0.8" />
<line x1="480.16" y1="683.20" x2="480.16" y2="685.20" stroke="#000000" stroke-width="0.8" />
<text x="457.80" y="696.2" font-size="7.9" text-anchor="end" fill="#000000" stroke="#000000" stroke-width="0.4">10</text>
<text x="458.00" y="692.6" font-size="5.6" fill="#000000" stroke="#000000" stroke-width="0.2">-7</text>
<line x1="481.30" y1="683.20" x2="481.30" y2="686.60" stroke="#000000" stroke-width="1.1" />
<line x1="488.83" y1="683.20" x2="488.83" y2="685.20" stroke="#000000" stroke-width="0.8" />
<line x1="493.23" y1="683.20" x2="493.23" y2="685.20" stroke="#000000" stroke-width="0.8" />
<line x1="496.35" y1="683.20" x2="496.35" y2="685.20" stroke="#000000" stroke-width="0.8" />
<line x1="498.77" y1="683.20" x2="498.77" y2="685.20" stroke="#000000" stroke-width="0.8" />
<line x1="500.75" y1="683.20" x2="500.75" y2="685.20" stroke="#000000" stroke-width="0.8" />
<line x1="502.43" y1="683.20" x2="502.43" y2="685.20" stroke="#000000" stroke-width="0.8" />
<line x1="503.88" y1="683.20" x2="503.88" y2="685.20" stroke="#000000" stroke-width="0.8" />
<line x1="505.16" y1="683.20" x2="505.16" y2="685.20" stroke="#000000" stroke-width="0.8" />
<text x="482.80" y="696.2" font-size="7.9" text-anchor="end" fill="#000000" stroke="#000000" stroke-width="0.4">10</text>
<text x="483.00" y="692.6" font-size="5.6" fill="#000000" stroke="#000000" stroke-width="0.2">-6</text>
<line x1="506.30" y1="683.20" x2="506.30" y2="686.60" stroke="#000000" stroke-width="1.1" />
<text x="507.80" y="696.2" font-size="7.9" text-anchor="end" fill="#000000" stroke="#000000" stroke-width="0.4">10</text>
<text x="508.00" y="692.6" font-size="5.6" fill="#000000" stroke="#000000" stroke-width="0.2">-5</text>
<text x="441.70" y="709.60" font-size="8.8" text-anchor="middle" font-weight="normal" fill="#000000" stroke="#000000" stroke-width="0.4" >CXCL8 concentration [M]</text>
<polyline points="405.80,676.98 407.08,676.90 408.36,676.81 409.64,676.71 410.92,676.59 412.20,676.47 413.48,676.32 414.76,676.16 416.04,675.98 417.32,675.78 418.60,675.55 419.88,675.30 421.16,675.02 422.44,674.70 423.72,674.35 424.99,673.96 426.27,673.52 427.55,673.03 428.83,672.49 430.11,671.90 431.39,671.24 432.67,670.51 433.95,669.70 435.23,668.82 436.51,667.85 437.79,666.79 439.07,665.63 440.35,664.38 441.63,663.02 442.91,661.55 444.19,659.98 445.47,658.30 446.75,656.51 448.03,654.62 449.31,652.63 450.59,650.55 451.87,648.39 453.15,646.15 454.43,643.86 455.71,641.52 456.99,639.15 458.27,636.76 459.55,634.38 460.83,632.02 462.11,629.70 463.38,627.42 464.66,625.21 465.94,623.07 467.22,621.02 468.50,619.06 469.78,617.21 471.06,615.46 472.34,613.81 473.62,612.27 474.90,610.85 476.18,609.52 477.46,608.30 478.74,607.18 480.02,606.15 481.30,605.21" fill="none" stroke="#8c1934" stroke-width="1.7" stroke-linejoin="round" />
<polyline points="405.80,680.55 407.08,680.51 408.36,680.47 409.64,680.42 410.92,680.37 412.20,680.32 413.48,680.26 414.76,680.19 416.04,680.12 417.32,680.03 418.60,679.94 419.88,679.85 421.16,679.74 422.44,679.62 423.72,679.48 424.99,679.34 426.27,679.18 427.55,679.01 428.83,678.81 430.11,678.60 431.39,678.37 432.67,678.12 433.95,677.85 435.23,677.55 436.51,677.22 437.79,676.87 439.07,676.48 440.35,676.06 441.63,675.61 442.91,675.12 444.19,674.59 445.47,674.02 446.75,673.40 448.03,672.75 449.31,672.05 450.59,671.30 451.87,670.51 453.15,669.67 454.43,668.78 455.71,667.85 456.99,666.88 458.27,665.86 459.55,664.81 460.83,663.72 462.11,662.60 463.38,661.45 464.66,660.28 465.94,659.09 467.22,657.90 468.50,656.69 469.78,655.49 471.06,654.30 472.34,653.11 473.62,651.95 474.90,650.81 476.18,649.70 477.46,648.62 478.74,647.58 480.02,646.58 481.30,645.62" fill="none" stroke="#27417a" stroke-width="1.7" stroke-linejoin="round" />
<circle cx="418.80" cy="680.99" r="3.1" fill="#2c4a85" stroke="none" stroke-width="1.2"/>
<circle cx="431.30" cy="680.99" r="3.1" fill="#2c4a85" stroke="none" stroke-width="1.2"/>
<circle cx="443.80" cy="675.83" r="3.1" fill="#2c4a85" stroke="none" stroke-width="1.2"/>
<circle cx="456.30" cy="667.90" r="3.1" fill="#2c4a85" stroke="none" stroke-width="1.2"/>
<circle cx="468.80" cy="657.92" r="3.1" fill="#2c4a85" stroke="none" stroke-width="1.2"/>
<circle cx="481.30" cy="646.90" r="3.1" fill="#2c4a85" stroke="none" stroke-width="1.2"/>
<circle cx="418.80" cy="675.83" r="2.3" fill="#fff" stroke="#8c1934" stroke-width="1.35"/>
<circle cx="431.30" cy="675.83" r="2.3" fill="#fff" stroke="#8c1934" stroke-width="1.35"/>
<circle cx="443.80" cy="661.71" r="2.3" fill="#fff" stroke="#8c1934" stroke-width="1.35"/>
<circle cx="456.30" cy="640.61" r="2.3" fill="#fff" stroke="#8c1934" stroke-width="1.35"/>
<circle cx="468.80" cy="621.50" r="2.3" fill="#fff" stroke="#8c1934" stroke-width="1.35"/>
<circle cx="481.30" cy="605.65" r="2.3" fill="#fff" stroke="#8c1934" stroke-width="1.35"/>
<line x1="478.90" y1="602.10" x2="483.70" y2="602.10" stroke="#8c1934" stroke-width="1.2" />
<line x1="478.90" y1="608.70" x2="483.70" y2="608.70" stroke="#8c1934" stroke-width="1.2" />
<line x1="386.00" y1="678.00" x2="399.50" y2="678.00" stroke="#8c1934" stroke-width="1.7" />
<line x1="386.00" y1="680.40" x2="399.50" y2="680.40" stroke="#2c4a85" stroke-width="1.6" />
<line x1="386.00" y1="682.20" x2="399.50" y2="682.20" stroke="#9aa8c8" stroke-width="0.8" />
<circle cx="386.20" cy="679.80" r="2.6" fill="#2c4a85" stroke="none" stroke-width="1.2"/>
<circle cx="386.20" cy="675.10" r="2.0" fill="#fff" stroke="#8c1934" stroke-width="1.35"/>
<line x1="384.00" y1="672.90" x2="388.40" y2="672.90" stroke="#8c1934" stroke-width="1.1" />
<line x1="384.00" y1="677.20" x2="388.40" y2="677.20" stroke="#8c1934" stroke-width="1.1" />
<text x="391.20" y="655.00" font-size="7.9" text-anchor="middle" font-weight="normal" fill="#000000" stroke="#000000" stroke-width="0.4" >buffer</text>
<path d="M390.8,657.8 L388.5,665.2" stroke="#111" stroke-width="1.7"/>
<path d="M385.9,663.6 L391.3,664.8 L387.2,669.3 Z" fill="#111"/>
<line x1="381.00" y1="597.30" x2="390.60" y2="597.30" stroke="#8c1934" stroke-width="1.5" />
<circle cx="385.80" cy="597.30" r="2.0" fill="#fff" stroke="#8c1934" stroke-width="1.35"/>
<text x="392.80" y="600.10" font-size="7.7" text-anchor="start" font-weight="normal" fill="#000000" stroke="#000000" stroke-width="0.4" >WT</text>
<line x1="381.00" y1="607.60" x2="390.60" y2="607.60" stroke="#27417a" stroke-width="1.5" />
<circle cx="385.80" cy="607.60" r="2.6" fill="#2c4a85" stroke="none" stroke-width="1.2"/>
<text x="392.80" y="610.40" font-size="7.7" text-anchor="start" font-weight="normal" fill="#000000" stroke="#000000" stroke-width="0.4" >CCRL2 KO</text>
<rect x="0" y="0" width="520" height="1.5" fill="#000"/><rect x="0" y="0" width="1.35" height="720" fill="#000"/><rect x="518.4" y="0" width="1.6" height="720" fill="#000"/><rect x="0" y="718.2" width="520" height="1.8" fill="#000"/>
</g>
</svg>
</body></html>
